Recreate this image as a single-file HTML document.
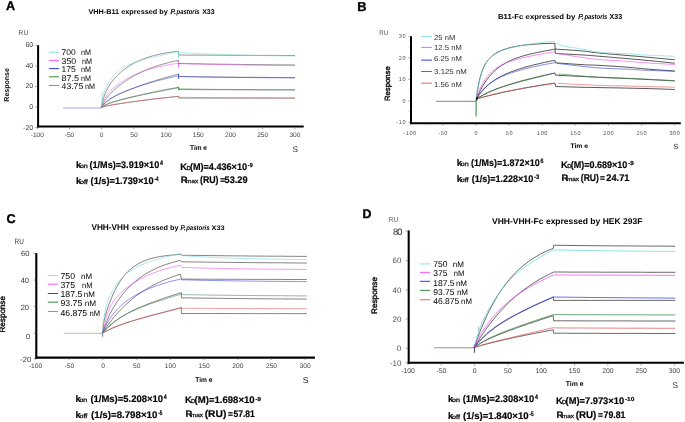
<!DOCTYPE html>
<html><head><meta charset="utf-8"><style>
html,body{margin:0;padding:0;background:#fff;}
svg{display:block;font-family:"Liberation Sans", sans-serif;will-change:transform;text-rendering:geometricPrecision;}
</style></head><body>
<svg width="685" height="422" viewBox="0 0 685 422">
<rect width="685" height="422" fill="#fff"/>
<text x="5.90" y="9.80" font-size="12.6" font-weight="bold" fill="#000" stroke="#000" stroke-width="0.35">A</text>
<text x="88.40" y="13.60" font-size="7" font-weight="bold" textLength="79.40" lengthAdjust="spacingAndGlyphs" >VHH-B11 expressed by</text>
<text x="170.60" y="13.60" font-size="7" font-style="italic" textLength="5.50" lengthAdjust="spacingAndGlyphs" stroke="#111" stroke-width="0.3">P.</text>
<text x="176.50" y="13.60" font-size="7" font-weight="bold" font-style="italic" textLength="23.10" lengthAdjust="spacingAndGlyphs" >pastoris</text>
<text x="202.20" y="13.60" font-size="7" font-weight="bold" textLength="12.40" lengthAdjust="spacingAndGlyphs" >X33</text>
<text x="18.60" y="34.60" font-size="6.9" fill="#444" textLength="9.60" lengthAdjust="spacingAndGlyphs" >RU</text>
<line x1="38.10" y1="45.20" x2="38.10" y2="127.50" stroke="#000" stroke-width="2"/>
<line x1="37.10" y1="126.50" x2="303.70" y2="126.50" stroke="#000" stroke-width="2"/>
<line x1="35.20" y1="45.30" x2="37.10" y2="45.30" stroke="#666" stroke-width="0.6"/>
<text x="33.20" y="47.10" font-size="7" text-anchor="end" fill="#444" >60</text>
<line x1="35.20" y1="65.90" x2="37.10" y2="65.90" stroke="#666" stroke-width="0.6"/>
<text x="33.20" y="67.70" font-size="7" text-anchor="end" fill="#444" >40</text>
<line x1="35.20" y1="86.50" x2="37.10" y2="86.50" stroke="#666" stroke-width="0.6"/>
<text x="33.20" y="88.30" font-size="7" text-anchor="end" fill="#444" >20</text>
<line x1="35.20" y1="107.10" x2="37.10" y2="107.10" stroke="#666" stroke-width="0.6"/>
<text x="33.20" y="108.90" font-size="7" text-anchor="end" fill="#444" >0</text>
<line x1="35.20" y1="127.70" x2="37.10" y2="127.70" stroke="#666" stroke-width="0.6"/>
<text x="33.20" y="129.50" font-size="7" text-anchor="end" fill="#444" >-20</text>
<line x1="37.30" y1="127.50" x2="37.30" y2="129.30" stroke="#666" stroke-width="0.6"/>
<text x="37.30" y="137.00" font-size="6.6" text-anchor="middle" fill="#444" >-100</text>
<line x1="69.50" y1="127.50" x2="69.50" y2="129.30" stroke="#666" stroke-width="0.6"/>
<text x="69.50" y="137.00" font-size="6.6" text-anchor="middle" fill="#444" >-50</text>
<line x1="101.70" y1="127.50" x2="101.70" y2="129.30" stroke="#666" stroke-width="0.6"/>
<text x="101.70" y="137.00" font-size="6.6" text-anchor="middle" fill="#444" >0</text>
<line x1="133.90" y1="127.50" x2="133.90" y2="129.30" stroke="#666" stroke-width="0.6"/>
<text x="133.90" y="137.00" font-size="6.6" text-anchor="middle" fill="#444" >50</text>
<line x1="166.10" y1="127.50" x2="166.10" y2="129.30" stroke="#666" stroke-width="0.6"/>
<text x="166.10" y="137.00" font-size="6.6" text-anchor="middle" fill="#444" >100</text>
<line x1="198.30" y1="127.50" x2="198.30" y2="129.30" stroke="#666" stroke-width="0.6"/>
<text x="198.30" y="137.00" font-size="6.6" text-anchor="middle" fill="#444" >150</text>
<line x1="230.50" y1="127.50" x2="230.50" y2="129.30" stroke="#666" stroke-width="0.6"/>
<text x="230.50" y="137.00" font-size="6.6" text-anchor="middle" fill="#444" >200</text>
<line x1="262.70" y1="127.50" x2="262.70" y2="129.30" stroke="#666" stroke-width="0.6"/>
<text x="262.70" y="137.00" font-size="6.6" text-anchor="middle" fill="#444" >250</text>
<line x1="294.90" y1="127.50" x2="294.90" y2="129.30" stroke="#666" stroke-width="0.6"/>
<text x="294.90" y="137.00" font-size="6.6" text-anchor="middle" fill="#444" >300</text>
<text x="9.10" y="84.90" font-size="7" font-weight="bold" text-anchor="middle" textLength="33.60" lengthAdjust="spacingAndGlyphs" transform="rotate(-90 9.10 84.90)" >Response</text>
<text x="190.00" y="149.60" font-size="6.8" font-weight="bold" textLength="17.00" lengthAdjust="spacingAndGlyphs" >Tim e</text>
<text x="292.40" y="151.60" font-size="8.2" fill="#222" >S</text>
<line x1="48.90" y1="52.20" x2="59.00" y2="52.20" stroke="#86e6e6" stroke-width="1.05"/>
<text x="61.60" y="54.60" font-size="8.3" textLength="14.20" lengthAdjust="spacingAndGlyphs" >700</text>
<text x="81.00" y="54.60" font-size="8.0" textLength="10.00" lengthAdjust="spacingAndGlyphs" >nM</text>
<line x1="48.90" y1="60.40" x2="59.00" y2="60.40" stroke="#ff5cff" stroke-width="1.05"/>
<text x="61.60" y="63.50" font-size="8.3" textLength="14.60" lengthAdjust="spacingAndGlyphs" >350</text>
<text x="82.00" y="63.50" font-size="8.0" textLength="10.00" lengthAdjust="spacingAndGlyphs" >nM</text>
<line x1="48.90" y1="68.60" x2="59.00" y2="68.60" stroke="#3840e4" stroke-width="1.05"/>
<text x="61.60" y="72.20" font-size="8.3" textLength="14.20" lengthAdjust="spacingAndGlyphs" >175</text>
<text x="81.00" y="72.20" font-size="8.0" textLength="10.00" lengthAdjust="spacingAndGlyphs" >nM</text>
<line x1="48.90" y1="76.80" x2="59.00" y2="76.80" stroke="#3c8c44" stroke-width="1.05"/>
<text x="61.60" y="80.50" font-size="8.3" textLength="17.40" lengthAdjust="spacingAndGlyphs" >87.5</text>
<text x="81.00" y="80.50" font-size="8.0" textLength="10.00" lengthAdjust="spacingAndGlyphs" >nM</text>
<line x1="48.90" y1="85.50" x2="59.00" y2="85.50" stroke="#f06868" stroke-width="1.05"/>
<text x="61.60" y="88.90" font-size="8.3" textLength="21.60" lengthAdjust="spacingAndGlyphs" >43.75</text>
<text x="84.90" y="88.90" font-size="8.0" textLength="10.00" lengthAdjust="spacingAndGlyphs" >nM</text>
<path d="M63.1 108.0 101.7 108.0" fill="none" stroke="#9a88d8" stroke-width="0.8" stroke-opacity="1"/>
<path d="M101.3 107.4 101.5 106.6 101.8 105.1 102.2 103.2 102.7 101.1 103.4 98.9 104.1 96.6 104.8 94.4 105.7 92.3 106.6 90.3 107.6 88.3 108.6 86.5 109.7 84.7 110.8 83.0 112.1 81.4 113.3 79.8 114.6 78.3 116.0 76.8 117.4 75.4 118.8 74.0 120.3 72.6 121.9 71.3 123.5 70.0 125.1 68.8 126.8 67.6 128.5 66.4 130.2 65.3 132.0 64.3 133.9 63.2 135.8 62.3 137.7 61.3 139.7 60.4 141.7 59.6 143.7 58.8 145.8 58.0 147.9 57.3 150.0 56.6 152.2 56.0 154.4 55.4 156.7 54.9 159.0 54.3 161.3 53.8 163.6 53.4 166.0 52.9 168.5 52.5 170.9 52.2 173.4 51.8 175.9 51.5 178.5 51.2 178.7 55.0 178.7 55.0 182.6 55.0 186.5 55.1 190.3 55.1 194.2 55.1 198.1 55.1 202.0 55.1 205.8 55.2 209.7 55.2 213.6 55.2 217.5 55.2 221.3 55.2 225.2 55.3 229.1 55.3 233.0 55.3 236.8 55.3 240.7 55.3 244.6 55.3 248.5 55.4 252.4 55.4 256.2 55.4 260.1 55.4 264.0 55.4 267.9 55.4 271.7 55.4 275.6 55.4 279.5 55.5 283.4 55.5 287.2 55.5 291.1 55.5 295.0 55.5" fill="none" stroke="#404040" stroke-width="0.55" stroke-opacity="1.0"/>
<path d="M101.3 107.4 101.5 107.0 101.8 106.3 102.2 105.3 102.7 104.2 103.4 103.1 104.1 101.8 104.8 100.6 105.7 99.4 106.6 98.1 107.6 96.9 108.6 95.7 109.7 94.4 110.8 93.2 112.1 92.0 113.3 90.8 114.6 89.6 116.0 88.4 117.4 87.2 118.8 86.0 120.3 84.9 121.9 83.7 123.5 82.5 125.1 81.4 126.8 80.3 128.5 79.1 130.2 78.0 132.0 77.0 133.9 75.9 135.8 74.9 137.7 73.9 139.7 72.9 141.7 71.9 143.7 71.0 145.8 70.1 147.9 69.2 150.0 68.4 152.2 67.6 154.4 66.8 156.7 66.0 159.0 65.3 161.3 64.6 163.6 63.9 166.0 63.3 168.5 62.6 170.9 62.0 173.4 61.5 175.9 60.9 178.5 60.4 178.7 63.5 178.7 63.5 182.6 63.6 186.5 63.6 190.3 63.7 194.2 63.8 198.1 63.8 202.0 63.9 205.8 64.0 209.7 64.0 213.6 64.1 217.5 64.1 221.3 64.2 225.2 64.2 229.1 64.3 233.0 64.3 236.8 64.4 240.7 64.4 244.6 64.5 248.5 64.5 252.4 64.5 256.2 64.6 260.1 64.6 264.0 64.7 267.9 64.7 271.7 64.7 275.6 64.8 279.5 64.8 283.4 64.8 287.2 64.8 291.1 64.9 295.0 64.9" fill="none" stroke="#404040" stroke-width="0.55" stroke-opacity="1.0"/>
<path d="M101.3 107.4 101.5 107.2 101.8 106.8 102.2 106.2 102.7 105.6 103.4 104.9 104.1 104.2 104.8 103.4 105.7 102.6 106.6 101.8 107.6 101.0 108.6 100.3 109.7 99.5 110.8 98.7 112.1 98.0 113.3 97.2 114.6 96.5 116.0 95.7 117.4 95.0 118.8 94.3 120.3 93.6 121.9 92.9 123.5 92.2 125.1 91.5 126.8 90.8 128.5 90.1 130.2 89.4 132.0 88.7 133.9 88.0 135.8 87.2 137.7 86.5 139.7 85.8 141.7 85.1 143.7 84.4 145.8 83.7 147.9 83.0 150.0 82.3 152.2 81.6 154.4 80.9 156.7 80.2 159.0 79.5 161.3 78.9 163.6 78.2 166.0 77.5 168.5 76.8 170.9 76.2 173.4 75.5 175.9 74.8 178.5 74.2 178.7 76.5 178.7 76.5 182.6 76.6 186.5 76.6 190.3 76.7 194.2 76.7 198.1 76.8 202.0 76.8 205.8 76.9 209.7 76.9 213.6 77.0 217.5 77.0 221.3 77.0 225.2 77.1 229.1 77.1 233.0 77.1 236.8 77.2 240.7 77.2 244.6 77.3 248.5 77.3 252.4 77.3 256.2 77.3 260.1 77.4 264.0 77.4 267.9 77.4 271.7 77.5 275.6 77.5 279.5 77.5 283.4 77.5 287.2 77.6 291.1 77.6 295.0 77.6" fill="none" stroke="#404040" stroke-width="0.55" stroke-opacity="1.0"/>
<path d="M101.3 107.4 101.5 107.3 101.8 107.1 102.2 106.8 102.7 106.4 103.4 106.0 104.1 105.7 104.8 105.3 105.7 104.9 106.6 104.5 107.6 104.1 108.6 103.7 109.7 103.3 110.8 102.9 112.1 102.5 113.3 102.1 114.6 101.7 116.0 101.3 117.4 100.9 118.8 100.5 120.3 100.0 121.9 99.6 123.5 99.2 125.1 98.8 126.8 98.3 128.5 97.9 130.2 97.4 132.0 97.0 133.9 96.5 135.8 96.1 137.7 95.6 139.7 95.2 141.7 94.7 143.7 94.2 145.8 93.8 147.9 93.3 150.0 92.8 152.2 92.4 154.4 91.9 156.7 91.4 159.0 91.0 161.3 90.5 163.6 90.0 166.0 89.6 168.5 89.1 170.9 88.7 173.4 88.2 175.9 87.8 178.5 87.3 178.7 89.6 178.7 89.6 182.6 89.6 186.5 89.6 190.3 89.6 194.2 89.6 198.1 89.6 202.0 89.7 205.8 89.7 209.7 89.7 213.6 89.7 217.5 89.7 221.3 89.7 225.2 89.7 229.1 89.7 233.0 89.7 236.8 89.7 240.7 89.7 244.6 89.7 248.5 89.7 252.4 89.7 256.2 89.8 260.1 89.8 264.0 89.8 267.9 89.8 271.7 89.8 275.6 89.8 279.5 89.8 283.4 89.8 287.2 89.8 291.1 89.8 295.0 89.8" fill="none" stroke="#404040" stroke-width="0.55" stroke-opacity="1.0"/>
<path d="M101.3 107.4 101.5 107.3 101.8 107.2 102.2 107.1 102.7 106.9 103.4 106.7 104.1 106.6 104.8 106.4 105.7 106.2 106.6 106.0 107.6 105.8 108.6 105.6 109.7 105.4 110.8 105.2 112.1 105.0 113.3 104.8 114.6 104.5 116.0 104.3 117.4 104.1 118.8 103.9 120.3 103.6 121.9 103.4 123.5 103.1 125.1 102.9 126.8 102.6 128.5 102.4 130.2 102.1 132.0 101.9 133.9 101.6 135.8 101.3 137.7 101.1 139.7 100.8 141.7 100.5 143.7 100.3 145.8 100.0 147.9 99.7 150.0 99.5 152.2 99.2 154.4 98.9 156.7 98.7 159.0 98.4 161.3 98.1 163.6 97.9 166.0 97.6 168.5 97.3 170.9 97.1 173.4 96.8 175.9 96.6 178.5 96.3 178.7 98.1 178.7 98.1 182.6 98.1 186.5 98.1 190.3 98.1 194.2 98.1 198.1 98.1 202.0 98.1 205.8 98.1 209.7 98.1 213.6 98.1 217.5 98.1 221.3 98.1 225.2 98.1 229.1 98.1 233.0 98.1 236.8 98.1 240.7 98.1 244.6 98.1 248.5 98.1 252.4 98.1 256.2 98.1 260.1 98.1 264.0 98.1 267.9 98.1 271.7 98.1 275.6 98.1 279.5 98.1 283.4 98.1 287.2 98.1 291.1 98.1 295.0 98.1" fill="none" stroke="#404040" stroke-width="0.55" stroke-opacity="1.0"/>
<path d="M101.3 107.4 101.5 106.1 101.8 103.7 102.2 100.9 102.7 98.0 103.4 95.2 104.1 92.6 104.8 90.2 105.7 88.0 106.6 86.0 107.6 84.1 108.6 82.3 109.7 80.6 110.8 79.0 112.1 77.5 113.3 76.0 114.6 74.6 116.0 73.3 117.4 72.0 118.8 70.8 120.3 69.7 121.9 68.7 123.5 67.7 125.1 66.7 126.8 65.9 128.5 65.0 130.2 64.2 132.0 63.5 133.9 62.8 135.8 62.1 137.7 61.4 139.7 60.8 141.7 60.2 143.7 59.6 145.8 59.1 147.9 58.5 150.0 57.9 152.2 57.4 154.4 56.9 156.7 56.3 159.0 55.8 161.3 55.3 163.6 54.7 166.0 54.2 168.5 53.7 170.9 53.1 173.4 52.6 175.9 52.0 178.5 51.5 179.0 52.4 179.7 52.4 183.5 52.6 187.4 52.9 191.2 53.1 195.1 53.3 198.9 53.5 202.8 53.6 206.6 53.8 210.4 54.0 214.3 54.1 218.1 54.3 222.0 54.4 225.8 54.5 229.7 54.7 233.5 54.8 237.3 54.9 241.2 55.0 245.0 55.1 248.9 55.2 252.7 55.3 256.6 55.4 260.4 55.5 264.3 55.6 268.1 55.7 271.9 55.7 275.8 55.8 279.6 55.9 283.5 55.9 287.3 56.0 291.2 56.0 295.0 56.1" fill="none" stroke="#6cdada" stroke-width="0.55" stroke-opacity="0.95"/>
<path d="M101.3 107.4 101.5 106.9 101.8 105.8 102.2 104.5 102.7 103.1 103.4 101.5 104.1 100.0 104.8 98.5 105.7 97.0 106.6 95.6 107.6 94.2 108.6 92.9 109.7 91.7 110.8 90.5 112.1 89.3 113.3 88.1 114.6 87.0 116.0 85.9 117.4 84.8 118.8 83.8 120.3 82.7 121.9 81.7 123.5 80.7 125.1 79.7 126.8 78.7 128.5 77.8 130.2 76.9 132.0 76.0 133.9 75.1 135.8 74.2 137.7 73.4 139.7 72.6 141.7 71.9 143.7 71.1 145.8 70.4 147.9 69.7 150.0 69.1 152.2 68.5 154.4 67.9 156.7 67.3 159.0 66.7 161.3 66.2 163.6 65.7 166.0 65.2 168.5 64.8 170.9 64.4 173.4 64.0 175.9 63.6 178.5 63.2 179.0 63.5 179.7 63.5 183.5 63.6 187.4 63.8 191.2 63.9 195.1 64.0 198.9 64.1 202.8 64.2 206.6 64.3 210.4 64.4 214.3 64.5 218.1 64.6 222.0 64.6 225.8 64.7 229.7 64.8 233.5 64.9 237.3 64.9 241.2 65.0 245.0 65.0 248.9 65.1 252.7 65.2 256.6 65.2 260.4 65.3 264.3 65.3 268.1 65.3 271.9 65.4 275.8 65.4 279.6 65.5 283.5 65.5 287.3 65.5 291.2 65.6 295.0 65.6" fill="none" stroke="#ee48ee" stroke-width="0.55" stroke-opacity="0.95"/>
<path d="M101.3 107.4 101.5 107.2 101.8 106.7 102.2 106.1 102.7 105.4 103.4 104.6 104.1 103.8 104.8 103.0 105.7 102.2 106.6 101.4 107.6 100.6 108.6 99.8 109.7 99.0 110.8 98.3 112.1 97.6 113.3 96.9 114.6 96.2 116.0 95.5 117.4 94.8 118.8 94.1 120.3 93.4 121.9 92.8 123.5 92.1 125.1 91.4 126.8 90.8 128.5 90.1 130.2 89.4 132.0 88.8 133.9 88.1 135.8 87.4 137.7 86.8 139.7 86.1 141.7 85.5 143.7 84.8 145.8 84.2 147.9 83.5 150.0 82.9 152.2 82.3 154.4 81.6 156.7 81.0 159.0 80.4 161.3 79.8 163.6 79.2 166.0 78.6 168.5 78.0 170.9 77.5 173.4 76.9 175.9 76.3 178.5 75.8 179.0 76.5 179.7 76.5 183.5 76.6 187.4 76.7 191.2 76.8 195.1 76.8 198.9 76.9 202.8 77.0 206.6 77.0 210.4 77.1 214.3 77.2 218.1 77.2 222.0 77.3 225.8 77.3 229.7 77.4 233.5 77.4 237.3 77.5 241.2 77.5 245.0 77.5 248.9 77.6 252.7 77.6 256.6 77.6 260.4 77.7 264.3 77.7 268.1 77.7 271.9 77.8 275.8 77.8 279.6 77.8 283.5 77.8 287.3 77.9 291.2 77.9 295.0 77.9" fill="none" stroke="#3440d8" stroke-width="0.55" stroke-opacity="0.95"/>
<path d="M101.3 107.4 101.5 107.3 101.8 107.1 102.2 106.8 102.7 106.4 103.4 106.0 104.1 105.6 104.8 105.2 105.7 104.8 106.6 104.3 107.6 103.9 108.6 103.5 109.7 103.0 110.8 102.6 112.1 102.2 113.3 101.8 114.6 101.4 116.0 101.0 117.4 100.6 118.8 100.3 120.3 99.9 121.9 99.5 123.5 99.1 125.1 98.7 126.8 98.3 128.5 97.9 130.2 97.5 132.0 97.1 133.9 96.7 135.8 96.3 137.7 95.9 139.7 95.5 141.7 95.0 143.7 94.6 145.8 94.2 147.9 93.7 150.0 93.3 152.2 92.9 154.4 92.4 156.7 92.0 159.0 91.5 161.3 91.1 163.6 90.6 166.0 90.1 168.5 89.7 170.9 89.2 173.4 88.7 175.9 88.3 178.5 87.8 179.0 88.8 179.7 88.8 183.5 88.9 187.4 88.9 191.2 89.0 195.1 89.1 198.9 89.1 202.8 89.2 206.6 89.3 210.4 89.3 214.3 89.4 218.1 89.4 222.0 89.5 225.8 89.5 229.7 89.5 233.5 89.6 237.3 89.6 241.2 89.7 245.0 89.7 248.9 89.7 252.7 89.7 256.6 89.8 260.4 89.8 264.3 89.8 268.1 89.9 271.9 89.9 275.8 89.9 279.6 89.9 283.5 89.9 287.3 90.0 291.2 90.0 295.0 90.0" fill="none" stroke="#3c8a46" stroke-width="0.55" stroke-opacity="0.95"/>
<path d="M101.3 107.4 101.5 107.3 101.8 107.2 102.2 107.1 102.7 106.9 103.4 106.7 104.1 106.5 104.8 106.3 105.7 106.1 106.6 105.9 107.6 105.7 108.6 105.5 109.7 105.3 110.8 105.1 112.1 104.8 113.3 104.6 114.6 104.4 116.0 104.2 117.4 104.0 118.8 103.7 120.3 103.5 121.9 103.3 123.5 103.0 125.1 102.8 126.8 102.6 128.5 102.3 130.2 102.1 132.0 101.8 133.9 101.6 135.8 101.3 137.7 101.1 139.7 100.8 141.7 100.6 143.7 100.3 145.8 100.1 147.9 99.8 150.0 99.6 152.2 99.3 154.4 99.0 156.7 98.8 159.0 98.5 161.3 98.3 163.6 98.0 166.0 97.8 168.5 97.5 170.9 97.3 173.4 97.0 175.9 96.7 178.5 96.5 179.0 97.3 179.7 97.3 183.5 97.3 187.4 97.4 191.2 97.4 195.1 97.5 198.9 97.5 202.8 97.5 206.6 97.6 210.4 97.6 214.3 97.6 218.1 97.7 222.0 97.7 225.8 97.7 229.7 97.7 233.5 97.8 237.3 97.8 241.2 97.8 245.0 97.8 248.9 97.8 252.7 97.9 256.6 97.9 260.4 97.9 264.3 97.9 268.1 97.9 271.9 97.9 275.8 97.9 279.6 98.0 283.5 98.0 287.3 98.0 291.2 98.0 295.0 98.0" fill="none" stroke="#e45a5a" stroke-width="0.55" stroke-opacity="0.95"/>
<line x1="102.00" y1="91.50" x2="102.00" y2="107.00" stroke="#6cdada" stroke-width="0.6"/>
<line x1="178.60" y1="51.20" x2="178.60" y2="58.00" stroke="#6cdada" stroke-width="0.7"/>
<line x1="178.60" y1="61.00" x2="178.60" y2="67.80" stroke="#ee48ee" stroke-width="0.8"/>
<line x1="178.60" y1="73.80" x2="178.60" y2="79.00" stroke="#3440d8" stroke-width="0.8"/>
<line x1="178.60" y1="86.50" x2="178.60" y2="90.00" stroke="#3c8a46" stroke-width="0.7"/>
<text x="76.00" y="168.40" font-size="9.4" font-weight="bold" stroke="#111" stroke-width="0.2">k</text>
<text x="79.90" y="168.40" font-size="6.2" textLength="7.90" lengthAdjust="spacingAndGlyphs" stroke="#222" stroke-width="0.3">on</text>
<text x="89.50" y="168.40" font-size="9.6" font-weight="bold" textLength="69.70" lengthAdjust="spacingAndGlyphs" stroke="#111" stroke-width="0.2">(1/Ms)=3.919×10</text>
<text x="160.00" y="165.40" font-size="6.4" font-weight="bold" textLength="3.00" lengthAdjust="spacingAndGlyphs" stroke="#111" stroke-width="0.2">4</text>
<text x="76.00" y="183.90" font-size="9.4" font-weight="bold" stroke="#111" stroke-width="0.2">k</text>
<text x="79.90" y="183.90" font-size="6.2" textLength="7.90" lengthAdjust="spacingAndGlyphs" stroke="#222" stroke-width="0.3">off</text>
<text x="90.60" y="183.90" font-size="9.6" font-weight="bold" textLength="63.00" lengthAdjust="spacingAndGlyphs" stroke="#111" stroke-width="0.2">(1/s)=1.739×10</text>
<text x="154.40" y="180.90" font-size="6.4" font-weight="bold" textLength="4.00" lengthAdjust="spacingAndGlyphs" stroke="#111" stroke-width="0.2">-4</text>
<text x="180.20" y="169.70" font-size="9.4" font-weight="bold" stroke="#111" stroke-width="0.2">K</text>
<text x="186.40" y="169.70" font-size="5.8" stroke="#222" stroke-width="0.3">D</text>
<text x="189.90" y="169.70" font-size="9.6" font-weight="bold" textLength="57.10" lengthAdjust="spacingAndGlyphs" stroke="#111" stroke-width="0.2">(M)=4.436×10</text>
<text x="247.80" y="166.90" font-size="5.8" font-weight="bold" textLength="4.90" lengthAdjust="spacingAndGlyphs" stroke="#111" stroke-width="0.2">-9</text>
<text x="180.80" y="183.20" font-size="9.4" font-weight="bold" stroke="#111" stroke-width="0.2">R</text>
<text x="186.10" y="183.20" font-size="5.8" textLength="12.20" lengthAdjust="spacingAndGlyphs" stroke="#222" stroke-width="0.3">max</text>
<text x="200.00" y="183.20" font-size="9.8" font-weight="bold" textLength="18.50" lengthAdjust="spacingAndGlyphs" stroke="#111" stroke-width="0.2">(RU)</text>
<text x="220.30" y="183.20" font-size="9.4" font-weight="bold" textLength="4.90" lengthAdjust="spacingAndGlyphs" stroke="#111" stroke-width="0.2">=</text>
<text x="224.60" y="183.20" font-size="9.6" font-weight="bold" textLength="23.00" lengthAdjust="spacingAndGlyphs" stroke="#111" stroke-width="0.2">53.29</text>
<text x="357.30" y="10.60" font-size="12.8" font-weight="bold" fill="#000" stroke="#000" stroke-width="0.35">B</text>
<text x="497.90" y="19.00" font-size="7.2" font-weight="bold" textLength="77.40" lengthAdjust="spacingAndGlyphs" >B11-Fc expressed by</text>
<text x="578.30" y="19.00" font-size="7.2" font-style="italic" textLength="5.70" lengthAdjust="spacingAndGlyphs" stroke="#111" stroke-width="0.3">P.</text>
<text x="584.40" y="19.00" font-size="7.2" font-weight="bold" font-style="italic" textLength="23.00" lengthAdjust="spacingAndGlyphs" >pastoris</text>
<text x="609.50" y="19.00" font-size="7.2" font-weight="bold" textLength="12.60" lengthAdjust="spacingAndGlyphs" >X33</text>
<text x="379.30" y="35.10" font-size="6.6" fill="#444" textLength="8.80" lengthAdjust="spacingAndGlyphs" >RU</text>
<line x1="411.00" y1="36.20" x2="411.00" y2="124.00" stroke="#000" stroke-width="2"/>
<line x1="410.00" y1="123.20" x2="680.80" y2="123.20" stroke="#000" stroke-width="2"/>
<line x1="408.20" y1="36.25" x2="410.00" y2="36.25" stroke="#777" stroke-width="0.6"/>
<text x="406.20" y="38.05" font-size="5.6" text-anchor="end" fill="#555" letter-spacing="0.6">30</text>
<line x1="408.20" y1="57.80" x2="410.00" y2="57.80" stroke="#777" stroke-width="0.6"/>
<text x="406.20" y="59.60" font-size="5.6" text-anchor="end" fill="#555" letter-spacing="0.6">20</text>
<line x1="408.20" y1="79.35" x2="410.00" y2="79.35" stroke="#777" stroke-width="0.6"/>
<text x="406.20" y="81.15" font-size="5.6" text-anchor="end" fill="#555" letter-spacing="0.6">10</text>
<line x1="408.20" y1="100.90" x2="410.00" y2="100.90" stroke="#777" stroke-width="0.6"/>
<text x="406.20" y="102.70" font-size="5.6" text-anchor="end" fill="#555" letter-spacing="0.6">0</text>
<line x1="408.20" y1="122.45" x2="410.00" y2="122.45" stroke="#777" stroke-width="0.6"/>
<text x="406.20" y="124.25" font-size="5.6" text-anchor="end" fill="#555" letter-spacing="0.6">-10</text>
<line x1="408.80" y1="47.03" x2="410.00" y2="47.03" stroke="#999" stroke-width="0.5"/>
<line x1="408.80" y1="68.58" x2="410.00" y2="68.58" stroke="#999" stroke-width="0.5"/>
<line x1="408.80" y1="90.12" x2="410.00" y2="90.12" stroke="#999" stroke-width="0.5"/>
<line x1="408.80" y1="111.68" x2="410.00" y2="111.68" stroke="#999" stroke-width="0.5"/>
<line x1="409.80" y1="124.20" x2="409.80" y2="125.80" stroke="#777" stroke-width="0.6"/>
<text x="410.10" y="134.70" font-size="5.6" text-anchor="middle" fill="#555" letter-spacing="0.5">-100</text>
<line x1="442.90" y1="124.20" x2="442.90" y2="125.80" stroke="#777" stroke-width="0.6"/>
<text x="443.20" y="134.70" font-size="5.6" text-anchor="middle" fill="#555" letter-spacing="0.5">-50</text>
<line x1="476.00" y1="124.20" x2="476.00" y2="125.80" stroke="#777" stroke-width="0.6"/>
<text x="476.30" y="134.70" font-size="5.6" text-anchor="middle" fill="#555" letter-spacing="0.5">0</text>
<line x1="509.10" y1="124.20" x2="509.10" y2="125.80" stroke="#777" stroke-width="0.6"/>
<text x="509.40" y="134.70" font-size="5.6" text-anchor="middle" fill="#555" letter-spacing="0.5">50</text>
<line x1="542.20" y1="124.20" x2="542.20" y2="125.80" stroke="#777" stroke-width="0.6"/>
<text x="542.50" y="134.70" font-size="5.6" text-anchor="middle" fill="#555" letter-spacing="0.5">100</text>
<line x1="575.30" y1="124.20" x2="575.30" y2="125.80" stroke="#777" stroke-width="0.6"/>
<text x="575.60" y="134.70" font-size="5.6" text-anchor="middle" fill="#555" letter-spacing="0.5">150</text>
<line x1="608.40" y1="124.20" x2="608.40" y2="125.80" stroke="#777" stroke-width="0.6"/>
<text x="608.70" y="134.70" font-size="5.6" text-anchor="middle" fill="#555" letter-spacing="0.5">200</text>
<line x1="641.50" y1="124.20" x2="641.50" y2="125.80" stroke="#777" stroke-width="0.6"/>
<text x="641.80" y="134.70" font-size="5.6" text-anchor="middle" fill="#555" letter-spacing="0.5">250</text>
<line x1="674.60" y1="124.20" x2="674.60" y2="125.80" stroke="#777" stroke-width="0.6"/>
<text x="674.90" y="134.70" font-size="5.6" text-anchor="middle" fill="#555" letter-spacing="0.5">300</text>
<line x1="426.35" y1="124.20" x2="426.35" y2="125.30" stroke="#999" stroke-width="0.5"/>
<line x1="459.45" y1="124.20" x2="459.45" y2="125.30" stroke="#999" stroke-width="0.5"/>
<line x1="492.55" y1="124.20" x2="492.55" y2="125.30" stroke="#999" stroke-width="0.5"/>
<line x1="525.65" y1="124.20" x2="525.65" y2="125.30" stroke="#999" stroke-width="0.5"/>
<line x1="558.75" y1="124.20" x2="558.75" y2="125.30" stroke="#999" stroke-width="0.5"/>
<line x1="591.85" y1="124.20" x2="591.85" y2="125.30" stroke="#999" stroke-width="0.5"/>
<line x1="624.95" y1="124.20" x2="624.95" y2="125.30" stroke="#999" stroke-width="0.5"/>
<line x1="658.05" y1="124.20" x2="658.05" y2="125.30" stroke="#999" stroke-width="0.5"/>
<text x="390.30" y="83.60" font-size="7.6" text-anchor="middle" textLength="34.80" lengthAdjust="spacingAndGlyphs" transform="rotate(-90 390.30 83.60)" stroke="#111" stroke-width="0.4">Response</text>
<text x="570.40" y="147.60" font-size="6.6" font-weight="bold" textLength="17.60" lengthAdjust="spacingAndGlyphs" >Tim e</text>
<text x="673.30" y="149.30" font-size="7.4" fill="#222" >S</text>
<line x1="421.20" y1="36.60" x2="431.90" y2="36.60" stroke="#86e6e6" stroke-width="1.05"/>
<text x="434.10" y="39.70" font-size="7.2" fill="#333" textLength="21.30" lengthAdjust="spacingAndGlyphs" >25 nM</text>
<line x1="421.20" y1="47.40" x2="431.90" y2="47.40" stroke="#ff5cff" stroke-width="1.05"/>
<text x="434.10" y="49.60" font-size="7.2" fill="#333" textLength="27.70" lengthAdjust="spacingAndGlyphs" >12.5 nM</text>
<line x1="421.20" y1="60.10" x2="431.90" y2="60.10" stroke="#3840e4" stroke-width="1.05"/>
<text x="434.10" y="61.30" font-size="7.2" fill="#333" textLength="27.90" lengthAdjust="spacingAndGlyphs" >6.25 nM</text>
<line x1="421.20" y1="71.50" x2="431.90" y2="71.50" stroke="#3c8c44" stroke-width="1.05"/>
<text x="434.10" y="73.50" font-size="7.2" fill="#333" textLength="32.70" lengthAdjust="spacingAndGlyphs" >3.125 nM</text>
<line x1="421.20" y1="83.20" x2="431.90" y2="83.20" stroke="#f06868" stroke-width="1.05"/>
<text x="434.10" y="87.30" font-size="7.2" fill="#333" textLength="27.70" lengthAdjust="spacingAndGlyphs" >1.56 nM</text>
<path d="M436.1 101.3 476.0 101.3" fill="none" stroke="#8a8080" stroke-width="1.0" stroke-opacity="1"/>
<path d="M476.3 99.0 476.5 97.7 476.8 95.3 477.2 92.2 477.8 88.8 478.4 85.3 479.1 81.7 479.9 78.3 480.8 75.2 481.7 72.2 482.7 69.5 483.7 67.0 484.9 64.8 486.0 62.9 487.2 61.1 488.5 59.5 489.9 58.0 491.2 56.7 492.7 55.5 494.1 54.4 495.7 53.4 497.2 52.5 498.9 51.7 500.5 50.9 502.2 50.2 504.0 49.5 505.8 48.9 507.6 48.3 509.5 47.8 511.4 47.3 513.4 46.9 515.3 46.5 517.4 46.1 519.5 45.7 521.6 45.4 523.7 45.2 525.9 44.9 528.1 44.7 530.4 44.5 532.7 44.3 535.0 44.1 537.4 44.0 539.8 43.8 542.2 43.7 544.7 43.6 547.2 43.5 549.7 43.4 552.3 43.4 554.9 43.3" fill="none" stroke="#1e1e1e" stroke-width="0.75" stroke-opacity="1.0"/>
<path d="M554.9 43.3 555.2 49.1" fill="none" stroke="#1e1e1e" stroke-width="0.75" stroke-opacity="1.0"/>
<path d="M555.20 49.10 C559.83 49.42 575.53 50.33 583.00 51.00 C590.47 51.67 589.67 52.10 600.00 53.10 C610.33 54.10 632.53 55.88 645.00 57.00 C657.47 58.12 669.83 59.33 674.80 59.80" fill="none" stroke="#1e1e1e" stroke-width="0.75" stroke-opacity="1.0" stroke-linejoin="round"/>
<path d="M476.3 99.0 476.5 98.6 476.8 97.8 477.2 96.8 477.8 95.6 478.4 94.2 479.1 92.7 479.9 91.1 480.8 89.5 481.7 87.7 482.7 86.0 483.7 84.3 484.9 82.5 486.0 80.8 487.2 79.1 488.5 77.5 489.9 75.9 491.2 74.3 492.7 72.8 494.1 71.4 495.7 70.0 497.2 68.6 498.9 67.4 500.5 66.2 502.2 65.0 504.0 64.0 505.8 62.9 507.6 62.0 509.5 61.0 511.4 60.2 513.4 59.3 515.3 58.5 517.4 57.8 519.5 57.1 521.6 56.4 523.7 55.8 525.9 55.2 528.1 54.6 530.4 54.0 532.7 53.5 535.0 53.0 537.4 52.5 539.8 52.0 542.2 51.5 544.7 51.0 547.2 50.5 549.7 50.1 552.3 49.6 554.9 49.2" fill="none" stroke="#1e1e1e" stroke-width="0.75" stroke-opacity="1.0"/>
<path d="M554.9 49.2 555.4 52.8" fill="none" stroke="#1e1e1e" stroke-width="0.75" stroke-opacity="1.0"/>
<path d="M555.40 52.80 C555.87 52.93 553.60 53.23 558.20 53.60 C562.80 53.97 576.03 54.55 583.00 55.00 C589.97 55.45 589.67 55.43 600.00 56.30 C610.33 57.17 632.53 59.05 645.00 60.20 C657.47 61.35 669.83 62.70 674.80 63.20" fill="none" stroke="#1e1e1e" stroke-width="0.75" stroke-opacity="1.0" stroke-linejoin="round"/>
<path d="M476.3 99.0 476.5 98.7 476.8 98.2 477.2 97.6 477.8 96.8 478.4 95.9 479.1 94.9 479.9 93.8 480.8 92.7 481.7 91.6 482.7 90.5 483.7 89.3 484.9 88.1 486.0 87.0 487.2 85.8 488.5 84.7 489.9 83.6 491.2 82.5 492.7 81.4 494.1 80.4 495.7 79.4 497.2 78.4 498.9 77.5 500.5 76.6 502.2 75.7 504.0 74.9 505.8 74.0 507.6 73.2 509.5 72.5 511.4 71.7 513.4 71.0 515.3 70.3 517.4 69.6 519.5 68.9 521.6 68.3 523.7 67.6 525.9 67.0 528.1 66.4 530.4 65.8 532.7 65.2 535.0 64.6 537.4 64.1 539.8 63.5 542.2 62.9 544.7 62.4 547.2 61.9 549.7 61.3 552.3 60.8 554.9 60.3" fill="none" stroke="#1e1e1e" stroke-width="0.75" stroke-opacity="1.0"/>
<path d="M554.9 60.3 555.6 62.8" fill="none" stroke="#1e1e1e" stroke-width="0.75" stroke-opacity="1.0"/>
<path d="M555.60 62.80 C560.17 63.12 575.60 64.27 583.00 64.70 C590.40 65.13 592.17 64.95 600.00 65.40 C607.83 65.85 622.50 66.82 630.00 67.40 C637.50 67.98 637.53 68.30 645.00 68.90 C652.47 69.50 669.83 70.65 674.80 71.00" fill="none" stroke="#1e1e1e" stroke-width="0.75" stroke-opacity="1.0" stroke-linejoin="round"/>
<path d="M476.3 99.0 476.5 98.9 476.8 98.7 477.2 98.4 477.8 98.1 478.4 97.7 479.1 97.3 479.9 96.8 480.8 96.4 481.7 95.8 482.7 95.3 483.7 94.8 484.9 94.2 486.0 93.6 487.2 93.0 488.5 92.4 489.9 91.8 491.2 91.2 492.7 90.6 494.1 90.0 495.7 89.3 497.2 88.7 498.9 88.1 500.5 87.5 502.2 86.9 504.0 86.3 505.8 85.7 507.6 85.1 509.5 84.5 511.4 83.9 513.4 83.3 515.3 82.7 517.4 82.1 519.5 81.5 521.6 80.9 523.7 80.4 525.9 79.8 528.1 79.2 530.4 78.7 532.7 78.1 535.0 77.5 537.4 77.0 539.8 76.4 542.2 75.8 544.7 75.3 547.2 74.7 549.7 74.1 552.3 73.6 554.9 73.0" fill="none" stroke="#1e1e1e" stroke-width="0.75" stroke-opacity="1.0"/>
<path d="M554.9 73.0 555.6 75.2" fill="none" stroke="#1e1e1e" stroke-width="0.75" stroke-opacity="1.0"/>
<path d="M555.60 75.20 C560.17 75.42 570.60 75.93 583.00 76.50 C595.40 77.07 614.70 77.87 630.00 78.60 C645.30 79.33 667.33 80.52 674.80 80.90" fill="none" stroke="#1e1e1e" stroke-width="0.75" stroke-opacity="1.0" stroke-linejoin="round"/>
<path d="M476.3 99.0 476.5 99.0 476.8 98.9 477.2 98.7 477.8 98.6 478.4 98.4 479.1 98.2 479.9 98.0 480.8 97.8 481.7 97.5 482.7 97.3 483.7 97.0 484.9 96.7 486.0 96.4 487.2 96.1 488.5 95.8 489.9 95.4 491.2 95.1 492.7 94.7 494.1 94.4 495.7 94.0 497.2 93.7 498.9 93.3 500.5 92.9 502.2 92.5 504.0 92.1 505.8 91.7 507.6 91.4 509.5 91.0 511.4 90.6 513.4 90.2 515.3 89.8 517.4 89.4 519.5 89.0 521.6 88.6 523.7 88.2 525.9 87.8 528.1 87.4 530.4 87.0 532.7 86.6 535.0 86.2 537.4 85.8 539.8 85.4 542.2 85.0 544.7 84.6 547.2 84.2 549.7 83.9 552.3 83.5 554.9 83.1" fill="none" stroke="#1e1e1e" stroke-width="0.75" stroke-opacity="1.0"/>
<path d="M554.9 83.1 555.6 86.5" fill="none" stroke="#1e1e1e" stroke-width="0.75" stroke-opacity="1.0"/>
<path d="M555.60 86.50 C560.17 86.63 575.60 87.12 583.00 87.30 C590.40 87.48 589.67 87.40 600.00 87.60 C610.33 87.80 632.53 88.18 645.00 88.50 C657.47 88.82 669.83 89.33 674.80 89.50" fill="none" stroke="#1e1e1e" stroke-width="0.75" stroke-opacity="1.0" stroke-linejoin="round"/>
<path d="M476.3 99.0 476.5 97.8 476.8 95.6 477.2 92.7 477.8 89.5 478.4 86.1 479.1 82.7 479.9 79.3 480.8 76.0 481.7 73.0 482.7 70.2 483.7 67.7 484.9 65.3 486.0 63.2 487.2 61.4 488.5 59.7 489.9 58.2 491.2 56.9 492.7 55.6 494.1 54.6 495.7 53.6 497.2 52.7 498.9 51.9 500.5 51.1 502.2 50.4 504.0 49.8 505.8 49.2 507.6 48.6 509.5 48.1 511.4 47.6 513.4 47.1 515.3 46.7 517.4 46.2 519.5 45.8 521.6 45.4 523.7 45.1 525.9 44.7 528.1 44.4 530.4 44.1 532.7 43.7 535.0 43.4 537.4 43.1 539.8 42.8 542.2 42.6 544.7 42.3 547.2 42.0 549.7 41.7 552.3 41.5 554.9 41.2" fill="none" stroke="#6cdada" stroke-width="0.65" stroke-opacity="0.95"/>
<path d="M556.30 43.20 C557.75 43.72 560.55 45.32 565.00 46.30 C569.45 47.28 577.17 48.08 583.00 49.10 C588.83 50.12 592.17 51.60 600.00 52.40 C607.83 53.20 622.50 53.47 630.00 53.90 C637.50 54.33 637.53 54.60 645.00 55.00 C652.47 55.40 669.83 56.08 674.80 56.30" fill="none" stroke="#6cdada" stroke-width="0.65" stroke-opacity="0.95" stroke-linejoin="round"/>
<path d="M476.3 99.0 476.5 98.5 476.8 97.5 477.2 96.1 477.8 94.6 478.4 92.8 479.1 91.0 479.9 89.1 480.8 87.2 481.7 85.3 482.7 83.4 483.7 81.5 484.9 79.8 486.0 78.1 487.2 76.4 488.5 74.9 489.9 73.5 491.2 72.1 492.7 70.8 494.1 69.6 495.7 68.5 497.2 67.5 498.9 66.5 500.5 65.6 502.2 64.7 504.0 63.9 505.8 63.1 507.6 62.4 509.5 61.7 511.4 61.1 513.4 60.4 515.3 59.8 517.4 59.3 519.5 58.7 521.6 58.2 523.7 57.6 525.9 57.1 528.1 56.6 530.4 56.1 532.7 55.7 535.0 55.2 537.4 54.7 539.8 54.3 542.2 53.9 544.7 53.4 547.2 53.0 549.7 52.6 552.3 52.2 554.9 51.8" fill="none" stroke="#ee48ee" stroke-width="0.65" stroke-opacity="0.95"/>
<path d="M557.00 53.40 C561.33 54.10 575.83 56.57 583.00 57.60 C590.17 58.63 592.17 58.95 600.00 59.60 C607.83 60.25 622.50 60.97 630.00 61.50 C637.50 62.03 637.53 62.30 645.00 62.80 C652.47 63.30 669.83 64.22 674.80 64.50" fill="none" stroke="#ee48ee" stroke-width="0.65" stroke-opacity="0.95" stroke-linejoin="round"/>
<path d="M476.3 99.0 476.5 98.7 476.8 98.2 477.2 97.4 477.8 96.5 478.4 95.6 479.1 94.5 479.9 93.4 480.8 92.3 481.7 91.1 482.7 90.0 483.7 88.8 484.9 87.7 486.0 86.6 487.2 85.5 488.5 84.4 489.9 83.4 491.2 82.4 492.7 81.5 494.1 80.6 495.7 79.7 497.2 78.8 498.9 78.0 500.5 77.2 502.2 76.4 504.0 75.7 505.8 74.9 507.6 74.2 509.5 73.6 511.4 72.9 513.4 72.2 515.3 71.6 517.4 71.0 519.5 70.4 521.6 69.8 523.7 69.2 525.9 68.6 528.1 68.1 530.4 67.5 532.7 67.0 535.0 66.5 537.4 66.0 539.8 65.5 542.2 65.0 544.7 64.5 547.2 64.0 549.7 63.6 552.3 63.1 554.9 62.7" fill="none" stroke="#3440d8" stroke-width="0.65" stroke-opacity="0.95"/>
<path d="M557.00 63.40 C561.33 63.90 575.83 65.63 583.00 66.40 C590.17 67.17 592.17 67.52 600.00 68.00 C607.83 68.48 622.50 68.93 630.00 69.30 C637.50 69.67 637.53 69.87 645.00 70.20 C652.47 70.53 669.83 71.12 674.80 71.30" fill="none" stroke="#3440d8" stroke-width="0.65" stroke-opacity="0.95" stroke-linejoin="round"/>
<path d="M476.3 99.0 476.5 98.9 476.8 98.7 477.2 98.4 477.8 98.0 478.4 97.6 479.1 97.1 479.9 96.6 480.8 96.1 481.7 95.6 482.7 95.0 483.7 94.5 484.9 93.9 486.0 93.3 487.2 92.7 488.5 92.1 489.9 91.6 491.2 91.0 492.7 90.4 494.1 89.8 495.7 89.2 497.2 88.7 498.9 88.1 500.5 87.5 502.2 87.0 504.0 86.4 505.8 85.9 507.6 85.3 509.5 84.7 511.4 84.2 513.4 83.6 515.3 83.1 517.4 82.5 519.5 82.0 521.6 81.4 523.7 80.8 525.9 80.3 528.1 79.7 530.4 79.1 532.7 78.6 535.0 78.0 537.4 77.4 539.8 76.8 542.2 76.2 544.7 75.6 547.2 75.0 549.7 74.4 552.3 73.7 554.9 73.1" fill="none" stroke="#3c8a46" stroke-width="0.65" stroke-opacity="0.95"/>
<path d="M558.20 73.90 C562.33 74.27 576.03 75.50 583.00 76.10 C589.97 76.70 592.17 77.10 600.00 77.50 C607.83 77.90 622.50 78.23 630.00 78.50 C637.50 78.77 637.53 78.73 645.00 79.10 C652.47 79.47 669.83 80.43 674.80 80.70" fill="none" stroke="#3c8a46" stroke-width="0.65" stroke-opacity="0.95" stroke-linejoin="round"/>
<path d="M476.3 99.0 476.5 98.9 476.8 98.8 477.2 98.7 477.8 98.5 478.4 98.3 479.1 98.1 479.9 97.9 480.8 97.6 481.7 97.4 482.7 97.1 483.7 96.8 484.9 96.5 486.0 96.2 487.2 95.8 488.5 95.5 489.9 95.2 491.2 94.8 492.7 94.5 494.1 94.1 495.7 93.8 497.2 93.4 498.9 93.0 500.5 92.7 502.2 92.3 504.0 91.9 505.8 91.6 507.6 91.2 509.5 90.8 511.4 90.5 513.4 90.1 515.3 89.7 517.4 89.3 519.5 89.0 521.6 88.6 523.7 88.2 525.9 87.9 528.1 87.5 530.4 87.1 532.7 86.8 535.0 86.4 537.4 86.0 539.8 85.6 542.2 85.3 544.7 84.9 547.2 84.5 549.7 84.1 552.3 83.8 554.9 83.4" fill="none" stroke="#e45a5a" stroke-width="0.65" stroke-opacity="0.95"/>
<path d="M558.20 83.40 C562.33 83.62 576.03 84.37 583.00 84.70 C589.97 85.03 592.17 85.17 600.00 85.40 C607.83 85.63 617.53 85.80 630.00 86.10 C642.47 86.40 667.33 87.02 674.80 87.20" fill="none" stroke="#e45a5a" stroke-width="0.65" stroke-opacity="0.95" stroke-linejoin="round"/>
<path d="M476.2 100.6 476.9 97.0" fill="none" stroke="#111" stroke-width="1.3" stroke-opacity="1"/>
<path d="M476.8 100.2 478.2 96.8" fill="none" stroke="#223" stroke-width="0.9" stroke-opacity="1"/>
<line x1="476.10" y1="100.50" x2="476.10" y2="116.60" stroke="#4a9a54" stroke-width="1.2"/>
<text x="456.80" y="166.30" font-size="9.4" font-weight="bold" stroke="#111" stroke-width="0.2">k</text>
<text x="460.70" y="166.30" font-size="6.2" textLength="7.90" lengthAdjust="spacingAndGlyphs" stroke="#222" stroke-width="0.3">on</text>
<text x="471.10" y="166.30" font-size="9.6" font-weight="bold" textLength="68.60" lengthAdjust="spacingAndGlyphs" stroke="#111" stroke-width="0.2">(1/Ms)=1.872×10</text>
<text x="540.50" y="163.30" font-size="6.4" font-weight="bold" textLength="2.90" lengthAdjust="spacingAndGlyphs" stroke="#111" stroke-width="0.2">6</text>
<text x="456.80" y="182.00" font-size="9.4" font-weight="bold" stroke="#111" stroke-width="0.2">k</text>
<text x="460.70" y="182.00" font-size="6.2" textLength="7.90" lengthAdjust="spacingAndGlyphs" stroke="#222" stroke-width="0.3">off</text>
<text x="471.70" y="182.00" font-size="9.6" font-weight="bold" textLength="61.60" lengthAdjust="spacingAndGlyphs" stroke="#111" stroke-width="0.2">(1/s)=1.228×10</text>
<text x="534.10" y="179.00" font-size="6.4" font-weight="bold" textLength="5.10" lengthAdjust="spacingAndGlyphs" stroke="#111" stroke-width="0.2">-3</text>
<text x="561.00" y="168.00" font-size="9.4" font-weight="bold" stroke="#111" stroke-width="0.2">K</text>
<text x="567.20" y="168.00" font-size="5.8" stroke="#222" stroke-width="0.3">D</text>
<text x="570.70" y="168.00" font-size="9.6" font-weight="bold" textLength="56.50" lengthAdjust="spacingAndGlyphs" stroke="#111" stroke-width="0.2">(M)=0.689×10</text>
<text x="628.00" y="165.20" font-size="5.8" font-weight="bold" textLength="5.70" lengthAdjust="spacingAndGlyphs" stroke="#111" stroke-width="0.2">-9</text>
<text x="561.60" y="181.30" font-size="9.4" font-weight="bold" stroke="#111" stroke-width="0.2">R</text>
<text x="566.90" y="181.30" font-size="5.8" textLength="12.20" lengthAdjust="spacingAndGlyphs" stroke="#222" stroke-width="0.3">max</text>
<text x="580.80" y="181.30" font-size="9.8" font-weight="bold" textLength="18.10" lengthAdjust="spacingAndGlyphs" stroke="#111" stroke-width="0.2">(RU)</text>
<text x="600.10" y="181.30" font-size="9.4" font-weight="bold" textLength="4.90" lengthAdjust="spacingAndGlyphs" stroke="#111" stroke-width="0.2">=</text>
<text x="606.30" y="181.30" font-size="9.6" font-weight="bold" textLength="23.20" lengthAdjust="spacingAndGlyphs" stroke="#111" stroke-width="0.2">24.71</text>
<text x="6.60" y="223.00" font-size="12.6" font-weight="bold" fill="#000" stroke="#000" stroke-width="0.35">C</text>
<text x="91.40" y="229.70" font-size="8.4" font-weight="bold" textLength="37.60" lengthAdjust="spacingAndGlyphs" >VHH-VHH</text>
<text x="131.90" y="229.70" font-size="7" font-weight="bold" textLength="46.70" lengthAdjust="spacingAndGlyphs" >expressed by</text>
<text x="180.60" y="229.60" font-size="6.8" font-style="italic" textLength="5.30" lengthAdjust="spacingAndGlyphs" stroke="#111" stroke-width="0.3">P.</text>
<text x="186.20" y="229.60" font-size="6.8" font-weight="bold" font-style="italic" textLength="23.40" lengthAdjust="spacingAndGlyphs" >pastoris</text>
<text x="211.60" y="229.70" font-size="6.6" font-weight="bold" textLength="13.00" lengthAdjust="spacingAndGlyphs" >X33</text>
<text x="14.60" y="243.80" font-size="7.6" fill="#333" textLength="9.20" lengthAdjust="spacingAndGlyphs" >RU</text>
<line x1="36.30" y1="253.10" x2="36.30" y2="358.80" stroke="#000" stroke-width="2.1"/>
<line x1="35.30" y1="357.70" x2="314.90" y2="357.70" stroke="#000" stroke-width="2.2"/>
<line x1="33.60" y1="253.40" x2="35.30" y2="253.40" stroke="#666" stroke-width="0.6"/>
<text x="29.40" y="256.40" font-size="7.6" text-anchor="end" fill="#3a3a3a" >60</text>
<line x1="33.60" y1="280.00" x2="35.30" y2="280.00" stroke="#666" stroke-width="0.6"/>
<text x="29.10" y="282.80" font-size="7.6" text-anchor="end" fill="#3a3a3a" >40</text>
<line x1="33.60" y1="306.60" x2="35.30" y2="306.60" stroke="#666" stroke-width="0.6"/>
<text x="29.10" y="310.00" font-size="7.6" text-anchor="end" fill="#3a3a3a" >20</text>
<line x1="33.60" y1="333.30" x2="35.30" y2="333.30" stroke="#666" stroke-width="0.6"/>
<text x="30.30" y="339.30" font-size="7.6" text-anchor="end" fill="#3a3a3a" >0</text>
<line x1="33.60" y1="358.60" x2="35.30" y2="358.60" stroke="#666" stroke-width="0.6"/>
<text x="31.20" y="362.00" font-size="7.6" text-anchor="end" fill="#3a3a3a" >-20</text>
<line x1="35.60" y1="358.20" x2="35.60" y2="360.00" stroke="#666" stroke-width="0.6"/>
<text x="35.60" y="368.30" font-size="6.7" text-anchor="middle" fill="#444" >-100</text>
<line x1="69.30" y1="358.20" x2="69.30" y2="360.00" stroke="#666" stroke-width="0.6"/>
<text x="69.30" y="368.30" font-size="6.7" text-anchor="middle" fill="#444" >-50</text>
<line x1="103.00" y1="358.20" x2="103.00" y2="360.00" stroke="#666" stroke-width="0.6"/>
<text x="103.00" y="368.30" font-size="6.7" text-anchor="middle" fill="#444" >0</text>
<line x1="136.70" y1="358.20" x2="136.70" y2="360.00" stroke="#666" stroke-width="0.6"/>
<text x="136.70" y="368.30" font-size="6.7" text-anchor="middle" fill="#444" >50</text>
<line x1="170.40" y1="358.20" x2="170.40" y2="360.00" stroke="#666" stroke-width="0.6"/>
<text x="170.40" y="368.30" font-size="6.7" text-anchor="middle" fill="#444" >100</text>
<line x1="204.10" y1="358.20" x2="204.10" y2="360.00" stroke="#666" stroke-width="0.6"/>
<text x="204.10" y="368.30" font-size="6.7" text-anchor="middle" fill="#444" >150</text>
<line x1="237.80" y1="358.20" x2="237.80" y2="360.00" stroke="#666" stroke-width="0.6"/>
<text x="237.80" y="368.30" font-size="6.7" text-anchor="middle" fill="#444" >200</text>
<line x1="271.50" y1="358.20" x2="271.50" y2="360.00" stroke="#666" stroke-width="0.6"/>
<text x="271.50" y="368.30" font-size="6.7" text-anchor="middle" fill="#444" >250</text>
<line x1="305.20" y1="358.20" x2="305.20" y2="360.00" stroke="#666" stroke-width="0.6"/>
<text x="305.20" y="368.30" font-size="6.7" text-anchor="middle" fill="#444" >300</text>
<text x="5.50" y="314.30" font-size="8.0" text-anchor="middle" textLength="36.40" lengthAdjust="spacingAndGlyphs" transform="rotate(-90 5.50 314.30)" stroke="#111" stroke-width="0.4">Response</text>
<text x="195.30" y="381.60" font-size="6.8" font-weight="bold" textLength="17.20" lengthAdjust="spacingAndGlyphs" >Tim e</text>
<text x="302.80" y="383.40" font-size="8.6" fill="#222" >S</text>
<line x1="47.80" y1="275.50" x2="58.00" y2="275.50" stroke="#86e6e6" stroke-width="1.05"/>
<text x="60.50" y="278.50" font-size="8.7" >750</text>
<text x="81.00" y="278.50" font-size="8.0" textLength="11.10" lengthAdjust="spacingAndGlyphs" >nM</text>
<line x1="47.80" y1="284.20" x2="58.00" y2="284.20" stroke="#ff5cff" stroke-width="1.05"/>
<text x="60.50" y="287.90" font-size="8.7" >375</text>
<text x="82.00" y="287.90" font-size="8.0" textLength="10.40" lengthAdjust="spacingAndGlyphs" >nM</text>
<line x1="47.80" y1="293.50" x2="58.00" y2="293.50" stroke="#3840e4" stroke-width="1.05"/>
<text x="60.50" y="296.90" font-size="8.7" >187.5</text>
<text x="83.70" y="296.90" font-size="8.0" textLength="11.10" lengthAdjust="spacingAndGlyphs" >nM</text>
<line x1="47.80" y1="302.20" x2="58.00" y2="302.20" stroke="#3c8c44" stroke-width="1.05"/>
<text x="60.50" y="306.00" font-size="8.7" >93.75</text>
<text x="84.70" y="306.00" font-size="8.0" textLength="11.40" lengthAdjust="spacingAndGlyphs" >nM</text>
<line x1="47.80" y1="311.50" x2="58.00" y2="311.50" stroke="#f06868" stroke-width="1.05"/>
<text x="60.50" y="315.90" font-size="8.7" >46.875</text>
<text x="89.60" y="315.90" font-size="8.0" textLength="10.60" lengthAdjust="spacingAndGlyphs" >nM</text>
<path d="M63.8 333.3 102.7 333.3" fill="none" stroke="#b8aa78" stroke-width="0.8" stroke-opacity="1"/>
<path d="M102.6 333.5 102.6 336.8" fill="none" stroke="#556" stroke-width="0.8" stroke-opacity="1"/>
<path d="M103.0 332.5 103.0 321.0" fill="none" stroke="#d8d070" stroke-width="0.6" stroke-opacity="1"/>
<path d="M102.7 333.1 102.9 330.7 103.2 327.0 103.6 323.5 104.2 320.5 104.8 317.7 105.5 315.1 106.3 312.5 107.1 309.8 108.0 307.1 109.0 304.3 110.1 301.5 111.2 298.7 112.3 296.0 113.5 293.3 114.8 290.6 116.1 288.0 117.5 285.6 118.9 283.2 120.4 280.9 121.9 278.8 123.4 276.7 125.0 274.8 126.7 272.9 128.4 271.2 130.1 269.6 131.9 268.1 133.7 266.7 135.5 265.5 137.4 264.3 139.4 263.2 141.4 262.2 143.4 261.3 145.4 260.4 147.5 259.7 149.6 259.0 151.8 258.4 154.0 257.8 156.2 257.3 158.5 256.8 160.8 256.4 163.2 256.1 165.5 255.7 167.9 255.4 170.4 255.2 172.9 255.0 175.4 254.8 177.9 254.6 180.5 254.4 181.4 255.2 181.4 255.2 185.6 255.3 189.8 255.3 193.9 255.4 198.1 255.4 202.3 255.5 206.5 255.5 210.7 255.6 214.9 255.6 219.1 255.7 223.2 255.7 227.4 255.8 231.6 255.8 235.8 255.9 240.0 255.9 244.1 255.9 248.3 256.0 252.5 256.0 256.7 256.1 260.9 256.1 265.1 256.1 269.2 256.2 273.4 256.2 277.6 256.2 281.8 256.2 286.0 256.3 290.2 256.3 294.3 256.3 298.5 256.4 302.7 256.4 306.9 256.4" fill="none" stroke="#303030" stroke-width="0.6" stroke-opacity="1.0"/>
<path d="M102.7 333.1 102.9 332.6 103.2 331.5 103.6 330.1 104.2 328.4 104.8 326.6 105.5 324.6 106.3 322.6 107.1 320.5 108.0 318.3 109.0 316.1 110.0 314.0 111.1 311.8 112.3 309.6 113.5 307.5 114.8 305.4 116.1 303.3 117.4 301.3 118.9 299.2 120.3 297.3 121.8 295.3 123.4 293.4 125.0 291.5 126.6 289.7 128.3 287.9 130.0 286.2 131.8 284.5 133.6 282.9 135.5 281.3 137.4 279.8 139.3 278.3 141.3 276.9 143.3 275.5 145.3 274.2 147.4 272.9 149.5 271.7 151.7 270.6 153.9 269.5 156.1 268.4 158.4 267.4 160.7 266.4 163.0 265.5 165.4 264.7 167.8 263.9 170.2 263.1 172.7 262.4 175.2 261.7 177.7 261.0 180.3 260.4 181.4 261.8 181.4 261.8 185.6 261.9 189.8 261.9 193.9 262.0 198.1 262.0 202.3 262.1 206.5 262.1 210.7 262.2 214.9 262.2 219.1 262.3 223.2 262.3 227.4 262.4 231.6 262.4 235.8 262.5 240.0 262.5 244.1 262.5 248.3 262.6 252.5 262.6 256.7 262.7 260.9 262.7 265.1 262.7 269.2 262.8 273.4 262.8 277.6 262.8 281.8 262.8 286.0 262.9 290.2 262.9 294.3 262.9 298.5 263.0 302.7 263.0 306.9 263.0" fill="none" stroke="#303030" stroke-width="0.6" stroke-opacity="1.0"/>
<path d="M102.7 333.1 102.9 332.8 103.2 332.3 103.6 331.6 104.2 330.8 104.8 329.8 105.5 328.7 106.3 327.5 107.1 326.3 108.0 325.0 109.0 323.6 110.1 322.2 111.2 320.8 112.3 319.3 113.5 317.8 114.8 316.2 116.1 314.7 117.5 313.1 118.9 311.6 120.4 310.0 121.9 308.5 123.4 306.9 125.0 305.3 126.7 303.8 128.4 302.3 130.1 300.8 131.9 299.3 133.7 297.8 135.5 296.4 137.4 295.0 139.4 293.6 141.4 292.3 143.4 291.0 145.4 289.7 147.5 288.4 149.6 287.2 151.8 286.0 154.0 284.8 156.2 283.7 158.5 282.6 160.8 281.5 163.2 280.5 165.5 279.5 167.9 278.6 170.4 277.6 172.9 276.7 175.4 275.8 177.9 275.0 180.5 274.2 181.4 279.1 181.4 279.1 185.6 279.1 189.8 279.1 193.9 279.2 198.1 279.2 202.3 279.2 206.5 279.2 210.7 279.2 214.9 279.2 219.1 279.3 223.2 279.3 227.4 279.3 231.6 279.3 235.8 279.3 240.0 279.3 244.1 279.3 248.3 279.4 252.5 279.4 256.7 279.4 260.9 279.4 265.1 279.4 269.2 279.4 273.4 279.4 277.6 279.4 281.8 279.4 286.0 279.5 290.2 279.5 294.3 279.5 298.5 279.5 302.7 279.5 306.9 279.5" fill="none" stroke="#303030" stroke-width="0.6" stroke-opacity="1.0"/>
<path d="M102.7 333.1 102.9 332.9 103.2 332.5 103.6 332.0 104.2 331.4 104.8 330.7 105.5 330.0 106.3 329.1 107.2 328.3 108.1 327.4 109.1 326.4 110.1 325.5 111.3 324.5 112.4 323.5 113.6 322.5 114.9 321.5 116.3 320.5 117.6 319.5 119.1 318.5 120.5 317.5 122.1 316.5 123.6 315.6 125.3 314.6 126.9 313.7 128.6 312.7 130.4 311.8 132.2 310.9 134.0 310.0 135.9 309.1 137.8 308.3 139.8 307.4 141.7 306.6 143.8 305.7 145.9 304.9 148.0 304.0 150.1 303.2 152.3 302.4 154.5 301.6 156.8 300.8 159.1 300.0 161.4 299.1 163.8 298.3 166.2 297.5 168.6 296.7 171.1 295.9 173.6 295.1 176.1 294.3 178.7 293.4 181.3 292.6 181.4 297.8 181.4 297.8 185.6 297.9 189.8 297.9 193.9 298.0 198.1 298.1 202.3 298.1 206.5 298.2 210.7 298.2 214.9 298.3 219.1 298.3 223.2 298.4 227.4 298.4 231.6 298.5 235.8 298.5 240.0 298.6 244.1 298.6 248.3 298.7 252.5 298.7 256.7 298.7 260.9 298.8 265.1 298.8 269.2 298.8 273.4 298.9 277.6 298.9 281.8 298.9 286.0 299.0 290.2 299.0 294.3 299.0 298.5 299.0 302.7 299.1 306.9 299.1" fill="none" stroke="#303030" stroke-width="0.6" stroke-opacity="1.0"/>
<path d="M102.7 333.1 102.9 333.0 103.2 332.8 103.6 332.6 104.2 332.3 104.8 331.9 105.5 331.5 106.3 331.1 107.2 330.7 108.1 330.2 109.1 329.8 110.1 329.3 111.3 328.8 112.4 328.2 113.6 327.7 114.9 327.2 116.3 326.6 117.6 326.1 119.1 325.5 120.5 325.0 122.1 324.4 123.6 323.9 125.3 323.3 126.9 322.7 128.6 322.2 130.4 321.6 132.2 321.0 134.0 320.5 135.9 319.9 137.8 319.3 139.8 318.8 141.7 318.2 143.8 317.6 145.9 317.0 148.0 316.4 150.1 315.8 152.3 315.2 154.5 314.6 156.8 314.0 159.1 313.4 161.4 312.8 163.8 312.2 166.2 311.5 168.6 310.9 171.1 310.2 173.6 309.6 176.1 308.9 178.7 308.3 181.3 307.6 181.4 313.5 181.4 313.5 185.6 313.5 189.8 313.5 193.9 313.5 198.1 313.5 202.3 313.5 206.5 313.5 210.7 313.5 214.9 313.5 219.1 313.5 223.2 313.5 227.4 313.5 231.6 313.6 235.8 313.6 240.0 313.6 244.1 313.6 248.3 313.6 252.5 313.6 256.7 313.6 260.9 313.6 265.1 313.6 269.2 313.6 273.4 313.6 277.6 313.6 281.8 313.6 286.0 313.6 290.2 313.6 294.3 313.6 298.5 313.6 302.7 313.6 306.9 313.6" fill="none" stroke="#303030" stroke-width="0.6" stroke-opacity="1.0"/>
<path d="M102.7 333.1 102.9 330.7 103.2 326.3 103.6 321.4 104.2 316.7 104.8 312.5 105.5 308.9 106.3 305.7 107.1 302.8 108.0 300.2 109.0 297.8 110.1 295.5 111.2 293.3 112.3 291.1 113.5 289.0 114.8 287.0 116.1 285.0 117.5 283.2 118.9 281.4 120.4 279.6 121.9 278.0 123.4 276.5 125.0 275.0 126.7 273.6 128.4 272.3 130.1 271.1 131.9 269.9 133.7 268.8 135.5 267.7 137.4 266.7 139.4 265.8 141.4 264.9 143.4 264.1 145.4 263.2 147.5 262.5 149.6 261.7 151.8 261.0 154.0 260.3 156.2 259.6 158.5 259.0 160.8 258.3 163.2 257.7 165.5 257.1 167.9 256.5 170.4 255.9 172.9 255.3 175.4 254.7 177.9 254.1 180.5 253.5 181.7 255.6 182.4 255.6 186.6 255.9 190.7 256.2 194.8 256.4 199.0 256.7 203.2 256.9 207.3 257.1 211.4 257.3 215.6 257.5 219.8 257.7 223.9 257.9 228.0 258.0 232.2 258.1 236.3 258.3 240.5 258.4 244.6 258.5 248.8 258.6 252.9 258.7 257.1 258.8 261.2 258.9 265.4 259.0 269.5 259.1 273.7 259.2 277.9 259.2 282.0 259.3 286.1 259.4 290.3 259.4 294.4 259.5 298.6 259.5 302.8 259.6 306.9 259.6" fill="none" stroke="#6cdada" stroke-width="0.6" stroke-opacity="0.95"/>
<path d="M102.7 333.1 102.9 332.2 103.2 330.5 103.6 328.3 104.2 325.8 104.8 323.2 105.5 320.4 106.3 317.7 107.1 315.0 108.0 312.4 109.0 310.0 110.1 307.7 111.2 305.5 112.3 303.4 113.5 301.5 114.8 299.6 116.1 297.9 117.5 296.3 118.9 294.7 120.4 293.2 121.9 291.8 123.4 290.4 125.0 289.0 126.7 287.7 128.4 286.5 130.1 285.2 131.9 284.0 133.7 282.9 135.5 281.7 137.4 280.6 139.4 279.5 141.4 278.5 143.4 277.5 145.4 276.5 147.5 275.5 149.6 274.6 151.8 273.7 154.0 272.8 156.2 272.0 158.5 271.1 160.8 270.4 163.2 269.6 165.5 268.9 167.9 268.2 170.4 267.5 172.9 266.9 175.4 266.3 177.9 265.7 180.5 265.2 181.7 267.4 182.4 267.4 186.6 267.5 190.7 267.7 194.8 267.8 199.0 267.9 203.2 268.1 207.3 268.2 211.4 268.3 215.6 268.4 219.8 268.4 223.9 268.5 228.0 268.6 232.2 268.7 236.3 268.7 240.5 268.8 244.6 268.9 248.8 268.9 252.9 269.0 257.1 269.0 261.2 269.1 265.4 269.1 269.5 269.1 273.7 269.2 277.9 269.2 282.0 269.2 286.1 269.3 290.3 269.3 294.4 269.3 298.6 269.4 302.8 269.4 306.9 269.4" fill="none" stroke="#ee48ee" stroke-width="0.6" stroke-opacity="0.95"/>
<path d="M102.7 333.1 102.9 332.7 103.2 331.9 103.6 330.8 104.2 329.5 104.8 328.1 105.5 326.6 106.3 325.0 107.1 323.4 108.0 321.7 109.0 320.0 110.1 318.4 111.2 316.7 112.3 315.1 113.5 313.5 114.8 312.0 116.1 310.5 117.5 309.0 118.9 307.6 120.4 306.2 121.9 304.8 123.4 303.5 125.0 302.2 126.7 301.0 128.4 299.7 130.1 298.6 131.9 297.4 133.7 296.3 135.5 295.2 137.4 294.1 139.4 293.1 141.4 292.1 143.4 291.1 145.4 290.2 147.5 289.3 149.6 288.4 151.8 287.5 154.0 286.7 156.2 285.8 158.5 285.1 160.8 284.3 163.2 283.6 165.5 282.9 167.9 282.2 170.4 281.5 172.9 280.9 175.4 280.3 177.9 279.7 180.5 279.1 181.7 279.8 182.4 279.8 186.6 279.9 190.7 280.0 194.8 280.1 199.0 280.2 203.2 280.3 207.3 280.4 211.4 280.5 215.6 280.6 219.8 280.6 223.9 280.7 228.0 280.8 232.2 280.8 236.3 280.9 240.5 281.0 244.6 281.0 248.8 281.1 252.9 281.1 257.1 281.2 261.2 281.2 265.4 281.3 269.5 281.3 273.7 281.3 277.9 281.4 282.0 281.4 286.1 281.5 290.3 281.5 294.4 281.5 298.6 281.5 302.8 281.6 306.9 281.6" fill="none" stroke="#3440d8" stroke-width="0.6" stroke-opacity="0.95"/>
<path d="M102.7 333.1 102.9 332.9 103.2 332.5 103.6 332.0 104.2 331.3 104.8 330.6 105.5 329.8 106.3 328.9 107.2 328.0 108.1 327.1 109.1 326.2 110.1 325.2 111.3 324.2 112.4 323.2 113.6 322.2 114.9 321.2 116.3 320.3 117.6 319.3 119.1 318.3 120.5 317.4 122.1 316.5 123.6 315.5 125.3 314.6 126.9 313.8 128.6 312.9 130.4 312.0 132.2 311.2 134.0 310.4 135.9 309.5 137.8 308.7 139.8 307.9 141.7 307.1 143.8 306.4 145.9 305.6 148.0 304.8 150.1 304.0 152.3 303.3 154.5 302.5 156.8 301.8 159.1 301.0 161.4 300.2 163.8 299.5 166.2 298.7 168.6 297.9 171.1 297.2 173.6 296.4 176.1 295.6 178.7 294.8 181.3 294.0 181.7 294.6 182.4 294.6 186.6 294.7 190.7 294.7 194.8 294.8 199.0 294.9 203.2 294.9 207.3 295.0 211.4 295.1 215.6 295.1 219.8 295.2 223.9 295.2 228.0 295.3 232.2 295.3 236.3 295.4 240.5 295.4 244.6 295.4 248.8 295.5 252.9 295.5 257.1 295.6 261.2 295.6 265.4 295.6 269.5 295.7 273.7 295.7 277.9 295.7 282.0 295.7 286.1 295.8 290.3 295.8 294.4 295.8 298.6 295.9 302.8 295.9 306.9 295.9" fill="none" stroke="#3c8a46" stroke-width="0.6" stroke-opacity="0.95"/>
<path d="M102.7 333.1 102.9 333.0 103.2 332.8 103.6 332.5 104.2 332.2 104.8 331.8 105.5 331.4 106.3 331.0 107.2 330.5 108.1 330.0 109.1 329.5 110.1 329.0 111.3 328.5 112.4 328.0 113.6 327.4 114.9 326.9 116.3 326.4 117.6 325.8 119.1 325.3 120.5 324.7 122.1 324.2 123.6 323.6 125.3 323.1 126.9 322.5 128.6 322.0 130.4 321.5 132.2 320.9 134.0 320.4 135.9 319.8 137.8 319.3 139.8 318.7 141.7 318.2 143.8 317.6 145.9 317.1 148.0 316.5 150.1 315.9 152.3 315.4 154.5 314.8 156.8 314.2 159.1 313.6 161.4 313.0 163.8 312.4 166.2 311.8 168.6 311.2 171.1 310.6 173.6 309.9 176.1 309.3 178.7 308.7 181.3 308.0 181.7 308.3 182.4 308.3 186.6 308.3 190.7 308.3 194.8 308.4 199.0 308.4 203.2 308.4 207.3 308.4 211.4 308.4 215.6 308.4 219.8 308.5 223.9 308.5 228.0 308.5 232.2 308.5 236.3 308.5 240.5 308.5 244.6 308.5 248.8 308.6 252.9 308.6 257.1 308.6 261.2 308.6 265.4 308.6 269.5 308.6 273.7 308.6 277.9 308.6 282.0 308.6 286.1 308.7 290.3 308.7 294.4 308.7 298.6 308.7 302.8 308.7 306.9 308.7" fill="none" stroke="#e45a5a" stroke-width="0.6" stroke-opacity="0.95"/>
<text x="75.50" y="401.80" font-size="9.4" font-weight="bold" stroke="#111" stroke-width="0.2">k</text>
<text x="79.40" y="401.80" font-size="6.2" textLength="7.90" lengthAdjust="spacingAndGlyphs" stroke="#222" stroke-width="0.3">on</text>
<text x="90.40" y="401.80" font-size="9.6" font-weight="bold" textLength="72.60" lengthAdjust="spacingAndGlyphs" stroke="#111" stroke-width="0.2">(1/Ms)=5.208×10</text>
<text x="163.80" y="398.80" font-size="6.4" font-weight="bold" textLength="2.90" lengthAdjust="spacingAndGlyphs" stroke="#111" stroke-width="0.2">4</text>
<text x="75.50" y="418.30" font-size="9.4" font-weight="bold" stroke="#111" stroke-width="0.2">k</text>
<text x="79.40" y="418.30" font-size="6.2" textLength="7.90" lengthAdjust="spacingAndGlyphs" stroke="#222" stroke-width="0.3">off</text>
<text x="91.00" y="418.30" font-size="9.6" font-weight="bold" textLength="66.40" lengthAdjust="spacingAndGlyphs" stroke="#111" stroke-width="0.2">(1/s)=8.798×10</text>
<text x="158.20" y="415.30" font-size="6.4" font-weight="bold" textLength="4.10" lengthAdjust="spacingAndGlyphs" stroke="#111" stroke-width="0.2">-5</text>
<text x="184.90" y="403.40" font-size="9.4" font-weight="bold" stroke="#111" stroke-width="0.2">K</text>
<text x="191.10" y="403.40" font-size="5.8" stroke="#222" stroke-width="0.3">D</text>
<text x="194.60" y="403.40" font-size="9.6" font-weight="bold" textLength="60.00" lengthAdjust="spacingAndGlyphs" stroke="#111" stroke-width="0.2">(M)=1.698×10</text>
<text x="255.40" y="400.60" font-size="5.8" font-weight="bold" textLength="5.60" lengthAdjust="spacingAndGlyphs" stroke="#111" stroke-width="0.2">-9</text>
<text x="185.50" y="417.40" font-size="9.4" font-weight="bold" stroke="#111" stroke-width="0.2">R</text>
<text x="190.80" y="417.40" font-size="5.8" textLength="12.20" lengthAdjust="spacingAndGlyphs" stroke="#222" stroke-width="0.3">max</text>
<text x="204.70" y="417.40" font-size="9.8" font-weight="bold" textLength="21.70" lengthAdjust="spacingAndGlyphs" stroke="#111" stroke-width="0.2">(RU)</text>
<text x="228.00" y="417.40" font-size="9.4" font-weight="bold" textLength="4.90" lengthAdjust="spacingAndGlyphs" stroke="#111" stroke-width="0.2">=</text>
<text x="233.50" y="417.40" font-size="9.6" font-weight="bold" textLength="21.30" lengthAdjust="spacingAndGlyphs" stroke="#111" stroke-width="0.2">57.81</text>
<text x="362.50" y="218.40" font-size="12.4" font-weight="bold" fill="#000" stroke="#000" stroke-width="0.35">D</text>
<text x="492.00" y="223.50" font-size="8.4" font-weight="bold" textLength="150.40" lengthAdjust="spacingAndGlyphs" >VHH-VHH-Fc expressed by HEK 293F</text>
<text x="388.70" y="222.20" font-size="7.2" fill="#556" textLength="9.40" lengthAdjust="spacingAndGlyphs" >RU</text>
<line x1="408.70" y1="230.40" x2="408.70" y2="363.80" stroke="#000" stroke-width="2.1"/>
<line x1="407.70" y1="362.80" x2="683.90" y2="362.80" stroke="#000" stroke-width="2.1"/>
<line x1="405.60" y1="231.10" x2="407.70" y2="231.10" stroke="#666" stroke-width="0.6"/>
<text x="401.70" y="234.70" font-size="9.4" text-anchor="end" fill="#222" letter-spacing="-0.9">80</text>
<line x1="405.60" y1="260.50" x2="407.70" y2="260.50" stroke="#666" stroke-width="0.6"/>
<text x="401.40" y="263.40" font-size="8.0" text-anchor="end" fill="#505050" >60</text>
<line x1="405.60" y1="289.90" x2="407.70" y2="289.90" stroke="#666" stroke-width="0.6"/>
<text x="401.50" y="293.10" font-size="8.0" text-anchor="end" fill="#505050" >40</text>
<line x1="405.60" y1="319.00" x2="407.70" y2="319.00" stroke="#666" stroke-width="0.6"/>
<text x="401.50" y="321.60" font-size="8.0" text-anchor="end" fill="#505050" >20</text>
<line x1="405.60" y1="348.30" x2="407.70" y2="348.30" stroke="#666" stroke-width="0.6"/>
<text x="401.10" y="351.00" font-size="8.0" text-anchor="end" fill="#505050" >0</text>
<line x1="405.60" y1="362.80" x2="407.70" y2="362.80" stroke="#666" stroke-width="0.6"/>
<text x="401.50" y="365.50" font-size="8.0" text-anchor="end" fill="#505050" >-10</text>
<line x1="408.00" y1="363.80" x2="408.00" y2="365.60" stroke="#666" stroke-width="0.6"/>
<text x="408.00" y="373.10" font-size="6.8" text-anchor="middle" fill="#444" >-100</text>
<line x1="441.30" y1="363.80" x2="441.30" y2="365.60" stroke="#666" stroke-width="0.6"/>
<text x="441.30" y="373.10" font-size="6.8" text-anchor="middle" fill="#444" >-50</text>
<line x1="474.60" y1="363.80" x2="474.60" y2="365.60" stroke="#666" stroke-width="0.6"/>
<text x="474.60" y="373.10" font-size="6.8" text-anchor="middle" fill="#444" >0</text>
<line x1="507.90" y1="363.80" x2="507.90" y2="365.60" stroke="#666" stroke-width="0.6"/>
<text x="507.90" y="373.10" font-size="6.8" text-anchor="middle" fill="#444" >50</text>
<line x1="541.20" y1="363.80" x2="541.20" y2="365.60" stroke="#666" stroke-width="0.6"/>
<text x="541.20" y="373.10" font-size="6.8" text-anchor="middle" fill="#444" >100</text>
<line x1="574.50" y1="363.80" x2="574.50" y2="365.60" stroke="#666" stroke-width="0.6"/>
<text x="574.50" y="373.10" font-size="6.8" text-anchor="middle" fill="#444" >150</text>
<line x1="607.80" y1="363.80" x2="607.80" y2="365.60" stroke="#666" stroke-width="0.6"/>
<text x="607.80" y="373.10" font-size="6.8" text-anchor="middle" fill="#444" >200</text>
<line x1="641.10" y1="363.80" x2="641.10" y2="365.60" stroke="#666" stroke-width="0.6"/>
<text x="641.10" y="373.10" font-size="6.8" text-anchor="middle" fill="#444" >250</text>
<line x1="674.40" y1="363.80" x2="674.40" y2="365.60" stroke="#666" stroke-width="0.6"/>
<text x="674.40" y="373.10" font-size="6.8" text-anchor="middle" fill="#444" >300</text>
<text x="376.60" y="295.50" font-size="8.0" text-anchor="middle" textLength="37.00" lengthAdjust="spacingAndGlyphs" transform="rotate(-90 376.60 295.50)" stroke="#111" stroke-width="0.4">Response</text>
<text x="565.80" y="386.20" font-size="6.8" font-weight="bold" textLength="17.80" lengthAdjust="spacingAndGlyphs" >Tim e</text>
<text x="672.60" y="388.30" font-size="8.2" fill="#222" >S</text>
<line x1="419.90" y1="263.90" x2="430.10" y2="263.90" stroke="#86e6e6" stroke-width="1.05"/>
<text x="433.20" y="266.80" font-size="8.5" >750</text>
<text x="452.80" y="266.80" font-size="8.1" textLength="11.20" lengthAdjust="spacingAndGlyphs" >nM</text>
<line x1="419.90" y1="272.40" x2="430.10" y2="272.40" stroke="#ff5cff" stroke-width="1.05"/>
<text x="433.20" y="276.30" font-size="8.5" >375</text>
<text x="453.70" y="276.30" font-size="8.1" textLength="10.60" lengthAdjust="spacingAndGlyphs" >nM</text>
<line x1="419.90" y1="281.30" x2="430.10" y2="281.30" stroke="#3840e4" stroke-width="1.05"/>
<text x="433.20" y="286.00" font-size="8.5" >187.5</text>
<text x="455.90" y="286.00" font-size="8.1" textLength="11.20" lengthAdjust="spacingAndGlyphs" >nM</text>
<line x1="419.90" y1="290.40" x2="430.10" y2="290.40" stroke="#3c8c44" stroke-width="1.05"/>
<text x="433.20" y="295.00" font-size="8.5" >93.75</text>
<text x="456.90" y="295.00" font-size="8.1" textLength="11.20" lengthAdjust="spacingAndGlyphs" >nM</text>
<line x1="419.90" y1="299.70" x2="430.10" y2="299.70" stroke="#f06868" stroke-width="1.05"/>
<text x="433.20" y="304.00" font-size="8.5" >46.875</text>
<text x="461.10" y="304.00" font-size="8.1" textLength="10.90" lengthAdjust="spacingAndGlyphs" >nM</text>
<path d="M434.0 347.8 474.0 347.8" fill="none" stroke="#9a8070" stroke-width="0.9" stroke-opacity="1"/>
<path d="M473.9 347.4 473.9 344.8" fill="none" stroke="#e0c860" stroke-width="1.0" stroke-opacity="1"/>
<path d="M474.2 347.5 474.4 347.0 474.7 346.1 475.1 344.8 475.7 343.2 476.3 341.4 477.0 339.4 477.8 337.3 478.7 335.0 479.6 332.5 480.6 330.0 481.7 327.4 482.8 324.7 484.0 322.0 485.2 319.2 486.5 316.4 487.8 313.6 489.2 310.8 490.7 308.0 492.2 305.2 493.7 302.4 495.3 299.6 496.9 296.9 498.6 294.2 500.3 291.6 502.1 289.0 503.9 286.5 505.7 284.0 507.6 281.6 509.5 279.3 511.5 277.0 513.5 274.8 515.5 272.7 517.6 270.7 519.8 268.7 521.9 266.8 524.1 264.9 526.4 263.2 528.6 261.5 530.9 259.9 533.3 258.3 535.7 256.9 538.1 255.4 540.5 254.1 543.0 252.8 545.5 251.6 548.1 250.4 550.7 249.4 553.3 248.3 553.6 245.3 553.6 245.3 557.7 245.3 561.7 245.4 565.8 245.4 569.8 245.5 573.9 245.5 577.9 245.6 582.0 245.6 586.1 245.6 590.1 245.7 594.2 245.7 598.2 245.7 602.3 245.8 606.3 245.8 610.4 245.8 614.5 245.9 618.5 245.9 622.6 245.9 626.6 245.9 630.7 246.0 634.7 246.0 638.8 246.0 642.8 246.0 646.9 246.1 651.0 246.1 655.0 246.1 659.1 246.1 663.1 246.1 667.2 246.2 671.2 246.2 675.3 246.2" fill="none" stroke="#282828" stroke-width="0.7" stroke-opacity="1.0"/>
<path d="M474.2 347.5 474.4 347.2 474.7 346.7 475.1 345.9 475.7 345.0 476.3 343.9 477.0 342.8 477.8 341.5 478.7 340.1 479.6 338.6 480.6 337.1 481.7 335.5 482.8 333.8 484.0 332.1 485.2 330.3 486.5 328.5 487.8 326.6 489.2 324.8 490.7 322.9 492.2 321.0 493.7 319.0 495.3 317.1 496.9 315.2 498.6 313.2 500.3 311.3 502.1 309.4 503.9 307.5 505.7 305.6 507.6 303.7 509.5 301.8 511.5 300.0 513.5 298.2 515.5 296.4 517.6 294.6 519.8 292.9 521.9 291.2 524.1 289.5 526.4 287.9 528.6 286.3 530.9 284.7 533.3 283.2 535.7 281.7 538.1 280.3 540.5 278.8 543.0 277.5 545.5 276.1 548.1 274.8 550.7 273.5 553.3 272.3 553.6 272.0 553.6 272.0 557.7 272.0 561.7 272.0 565.8 272.0 569.8 272.1 573.9 272.1 577.9 272.1 582.0 272.1 586.1 272.1 590.1 272.1 594.2 272.1 598.2 272.1 602.3 272.2 606.3 272.2 610.4 272.2 614.5 272.2 618.5 272.2 622.6 272.2 626.6 272.2 630.7 272.2 634.7 272.2 638.8 272.2 642.8 272.2 646.9 272.3 651.0 272.3 655.0 272.3 659.1 272.3 663.1 272.3 667.2 272.3 671.2 272.3 675.3 272.3" fill="none" stroke="#282828" stroke-width="0.7" stroke-opacity="1.0"/>
<path d="M474.2 347.5 474.4 347.3 474.7 346.9 475.1 346.3 475.7 345.7 476.3 344.9 477.0 344.1 477.8 343.2 478.7 342.3 479.6 341.2 480.6 340.2 481.7 339.1 482.8 338.0 484.0 336.9 485.2 335.8 486.5 334.6 487.8 333.4 489.2 332.3 490.7 331.1 492.2 329.9 493.7 328.8 495.3 327.6 496.9 326.4 498.6 325.3 500.3 324.1 502.1 323.0 503.9 321.8 505.7 320.7 507.6 319.6 509.5 318.5 511.5 317.3 513.5 316.2 515.5 315.1 517.6 314.0 519.8 312.9 521.9 311.8 524.1 310.7 526.4 309.6 528.6 308.5 530.9 307.4 533.3 306.2 535.7 305.1 538.1 304.0 540.5 302.9 543.0 301.8 545.5 300.6 548.1 299.5 550.7 298.4 553.3 297.2 553.6 300.4 553.6 300.4 557.7 300.4 561.7 300.4 565.8 300.4 569.8 300.4 573.9 300.4 577.9 300.4 582.0 300.4 586.1 300.4 590.1 300.4 594.2 300.4 598.2 300.4 602.3 300.4 606.3 300.4 610.4 300.4 614.5 300.4 618.5 300.4 622.6 300.4 626.6 300.4 630.7 300.4 634.7 300.4 638.8 300.4 642.8 300.4 646.9 300.4 651.0 300.4 655.0 300.4 659.1 300.4 663.1 300.4 667.2 300.4 671.2 300.4 675.3 300.4" fill="none" stroke="#282828" stroke-width="0.7" stroke-opacity="1.0"/>
<path d="M474.2 347.5 474.4 347.4 474.7 347.1 475.1 346.8 475.7 346.4 476.3 345.9 477.0 345.5 477.8 344.9 478.7 344.4 479.6 343.8 480.6 343.2 481.7 342.6 482.8 342.0 484.0 341.3 485.2 340.7 486.5 340.1 487.8 339.4 489.2 338.8 490.7 338.1 492.2 337.4 493.7 336.8 495.3 336.1 496.9 335.4 498.6 334.7 500.3 334.0 502.1 333.4 503.9 332.7 505.7 332.0 507.6 331.2 509.5 330.5 511.5 329.8 513.5 329.1 515.5 328.3 517.6 327.6 519.8 326.8 521.9 326.1 524.1 325.3 526.4 324.5 528.6 323.7 530.9 323.0 533.3 322.2 535.7 321.4 538.1 320.6 540.5 319.7 543.0 318.9 545.5 318.1 548.1 317.3 550.7 316.4 553.3 315.6 553.6 320.8 553.6 320.8 557.7 320.8 561.7 320.8 565.8 320.8 569.8 320.8 573.9 320.8 577.9 320.9 582.0 320.9 586.1 320.9 590.1 320.9 594.2 320.9 598.2 320.9 602.3 320.9 606.3 320.9 610.4 320.9 614.5 320.9 618.5 320.9 622.6 320.9 626.6 320.9 630.7 320.9 634.7 321.0 638.8 321.0 642.8 321.0 646.9 321.0 651.0 321.0 655.0 321.0 659.1 321.0 663.1 321.0 667.2 321.0 671.2 321.0 675.3 321.0" fill="none" stroke="#282828" stroke-width="0.7" stroke-opacity="1.0"/>
<path d="M474.2 347.5 474.4 347.5 474.7 347.4 475.1 347.2 475.7 347.1 476.3 346.9 477.0 346.7 477.8 346.4 478.7 346.2 479.6 345.9 480.6 345.6 481.7 345.3 482.8 345.0 484.0 344.7 485.2 344.4 486.5 344.0 487.8 343.7 489.2 343.3 490.7 343.0 492.2 342.6 493.7 342.2 495.3 341.8 496.9 341.5 498.6 341.1 500.3 340.7 502.1 340.2 503.9 339.8 505.7 339.4 507.6 339.0 509.5 338.6 511.5 338.1 513.5 337.7 515.5 337.3 517.6 336.8 519.8 336.4 521.9 336.0 524.1 335.5 526.4 335.0 528.6 334.6 530.9 334.1 533.3 333.7 535.7 333.2 538.1 332.7 540.5 332.2 543.0 331.8 545.5 331.3 548.1 330.8 550.7 330.3 553.3 329.8 553.6 333.2 553.6 333.2 557.7 333.2 561.7 333.2 565.8 333.2 569.8 333.3 573.9 333.3 577.9 333.3 582.0 333.3 586.1 333.3 590.1 333.3 594.2 333.3 598.2 333.3 602.3 333.4 606.3 333.4 610.4 333.4 614.5 333.4 618.5 333.4 622.6 333.4 626.6 333.4 630.7 333.4 634.7 333.4 638.8 333.4 642.8 333.4 646.9 333.5 651.0 333.5 655.0 333.5 659.1 333.5 663.1 333.5 667.2 333.5 671.2 333.5 675.3 333.5" fill="none" stroke="#282828" stroke-width="0.7" stroke-opacity="1.0"/>
<path d="M474.2 347.5 474.4 346.7 474.7 345.2 475.1 343.3 475.7 341.1 476.3 338.8 477.0 336.3 477.8 333.8 478.7 331.3 479.6 328.7 480.6 326.2 481.7 323.6 482.8 321.1 484.0 318.5 485.2 315.9 486.5 313.4 487.8 310.9 489.2 308.3 490.7 305.8 492.2 303.3 493.7 300.9 495.3 298.5 496.9 296.1 498.6 293.7 500.3 291.4 502.1 289.2 503.9 287.0 505.7 284.8 507.6 282.7 509.5 280.7 511.5 278.7 513.5 276.7 515.5 274.8 517.6 273.0 519.8 271.2 521.9 269.4 524.1 267.7 526.4 266.0 528.6 264.4 530.9 262.8 533.3 261.3 535.7 259.8 538.1 258.3 540.5 256.9 543.0 255.5 545.5 254.1 548.1 252.7 550.7 251.4 553.3 250.1 553.9 250.0 554.6 250.0 558.6 250.1 562.6 250.1 566.7 250.2 570.7 250.3 574.7 250.3 578.7 250.4 582.8 250.5 586.8 250.5 590.8 250.6 594.8 250.6 598.9 250.7 602.9 250.7 606.9 250.8 610.9 250.8 615.0 250.9 619.0 250.9 623.0 251.0 627.0 251.0 631.0 251.0 635.1 251.1 639.1 251.1 643.1 251.2 647.1 251.2 651.2 251.2 655.2 251.3 659.2 251.3 663.2 251.3 667.3 251.3 671.3 251.4 675.3 251.4" fill="none" stroke="#6cdada" stroke-width="0.8" stroke-opacity="0.95"/>
<path d="M474.2 347.5 474.4 346.7 474.7 345.5 475.1 344.4 475.7 343.3 476.3 342.0 477.0 340.7 477.8 339.3 478.7 337.7 479.6 336.1 480.6 334.5 481.7 332.7 482.8 331.0 484.0 329.2 485.2 327.4 486.5 325.5 487.8 323.7 489.2 321.8 490.7 320.0 492.2 318.1 493.7 316.3 495.3 314.5 496.9 312.7 498.6 310.9 500.3 309.1 502.1 307.4 503.9 305.7 505.7 304.1 507.6 302.4 509.5 300.8 511.5 299.2 513.5 297.7 515.5 296.2 517.6 294.7 519.8 293.2 521.9 291.8 524.1 290.3 526.4 289.0 528.6 287.6 530.9 286.3 533.3 284.9 535.7 283.6 538.1 282.4 540.5 281.1 543.0 279.9 545.5 278.6 548.1 277.4 550.7 276.2 553.3 275.0 553.9 274.9 554.6 274.9 558.6 274.9 562.6 274.9 566.7 275.0 570.7 275.0 574.7 275.0 578.7 275.0 582.8 275.0 586.8 275.0 590.8 275.1 594.8 275.1 598.9 275.1 602.9 275.1 606.9 275.1 610.9 275.1 615.0 275.1 619.0 275.2 623.0 275.2 627.0 275.2 631.0 275.2 635.1 275.2 639.1 275.2 643.1 275.2 647.1 275.2 651.2 275.2 655.2 275.3 659.2 275.3 663.2 275.3 667.3 275.3 671.3 275.3 675.3 275.3" fill="none" stroke="#ee48ee" stroke-width="0.8" stroke-opacity="0.95"/>
<path d="M474.2 347.5 474.4 347.3 474.7 346.8 475.1 346.2 475.7 345.5 476.3 344.7 477.0 343.8 477.8 342.9 478.7 341.8 479.6 340.8 480.6 339.7 481.7 338.5 482.8 337.4 484.0 336.2 485.2 335.1 486.5 333.9 487.8 332.7 489.2 331.5 490.7 330.4 492.2 329.2 493.7 328.0 495.3 326.9 496.9 325.7 498.6 324.6 500.3 323.5 502.1 322.3 503.9 321.2 505.7 320.1 507.6 319.0 509.5 317.9 511.5 316.8 513.5 315.7 515.5 314.6 517.6 313.5 519.8 312.4 521.9 311.3 524.1 310.2 526.4 309.1 528.6 308.1 530.9 307.0 533.3 305.8 535.7 304.7 538.1 303.6 540.5 302.5 543.0 301.4 545.5 300.2 548.1 299.1 550.7 298.0 553.3 296.8 553.9 297.0 554.6 297.0 558.6 297.1 562.6 297.1 566.7 297.2 570.7 297.2 574.7 297.3 578.7 297.3 582.8 297.4 586.8 297.4 590.8 297.5 594.8 297.5 598.9 297.5 602.9 297.6 606.9 297.6 610.9 297.6 615.0 297.7 619.0 297.7 623.0 297.8 627.0 297.8 631.0 297.8 635.1 297.8 639.1 297.9 643.1 297.9 647.1 297.9 651.2 298.0 655.2 298.0 659.2 298.0 663.2 298.0 667.3 298.1 671.3 298.1 675.3 298.1" fill="none" stroke="#3440d8" stroke-width="0.8" stroke-opacity="0.95"/>
<path d="M474.2 347.5 474.4 347.4 474.7 347.1 475.1 346.8 475.7 346.4 476.3 345.9 477.0 345.4 477.8 344.8 478.7 344.3 479.6 343.7 480.6 343.0 481.7 342.4 482.8 341.7 484.0 341.0 485.2 340.4 486.5 339.7 487.8 339.0 489.2 338.3 490.7 337.6 492.2 336.9 493.7 336.2 495.3 335.5 496.9 334.8 498.6 334.1 500.3 333.3 502.1 332.6 503.9 331.9 505.7 331.2 507.6 330.4 509.5 329.7 511.5 329.0 513.5 328.2 515.5 327.5 517.6 326.7 519.8 325.9 521.9 325.2 524.1 324.4 526.4 323.6 528.6 322.8 530.9 322.1 533.3 321.3 535.7 320.5 538.1 319.7 540.5 318.8 543.0 318.0 545.5 317.2 548.1 316.4 550.7 315.5 553.3 314.7 553.9 314.6 554.6 314.6 558.6 314.6 562.6 314.6 566.7 314.6 570.7 314.7 574.7 314.7 578.7 314.7 582.8 314.7 586.8 314.7 590.8 314.7 594.8 314.7 598.9 314.7 602.9 314.8 606.9 314.8 610.9 314.8 615.0 314.8 619.0 314.8 623.0 314.8 627.0 314.8 631.0 314.8 635.1 314.8 639.1 314.8 643.1 314.8 647.1 314.9 651.2 314.9 655.2 314.9 659.2 314.9 663.2 314.9 667.3 314.9 671.3 314.9 675.3 314.9" fill="none" stroke="#3c8a46" stroke-width="0.8" stroke-opacity="0.95"/>
<path d="M474.2 347.5 474.4 347.4 474.7 347.3 475.1 347.2 475.7 347.0 476.3 346.8 477.0 346.5 477.8 346.3 478.7 346.0 479.6 345.7 480.6 345.4 481.7 345.1 482.8 344.8 484.0 344.4 485.2 344.1 486.5 343.7 487.8 343.4 489.2 343.0 490.7 342.6 492.2 342.2 493.7 341.8 495.3 341.4 496.9 341.0 498.6 340.6 500.3 340.2 502.1 339.8 503.9 339.3 505.7 338.9 507.6 338.4 509.5 338.0 511.5 337.5 513.5 337.0 515.5 336.5 517.6 336.0 519.8 335.5 521.9 335.0 524.1 334.5 526.4 334.0 528.6 333.5 530.9 332.9 533.3 332.4 535.7 331.8 538.1 331.2 540.5 330.7 543.0 330.1 545.5 329.5 548.1 328.9 550.7 328.3 553.3 327.7 553.9 327.9 554.6 327.9 558.6 327.9 562.6 327.9 566.7 328.0 570.7 328.0 574.7 328.0 578.7 328.0 582.8 328.0 586.8 328.0 590.8 328.1 594.8 328.1 598.9 328.1 602.9 328.1 606.9 328.1 610.9 328.1 615.0 328.1 619.0 328.2 623.0 328.2 627.0 328.2 631.0 328.2 635.1 328.2 639.1 328.2 643.1 328.2 647.1 328.2 651.2 328.2 655.2 328.3 659.2 328.3 663.2 328.3 667.3 328.3 671.3 328.3 675.3 328.3" fill="none" stroke="#e45a5a" stroke-width="0.8" stroke-opacity="0.95"/>
<line x1="474.40" y1="347.20" x2="474.40" y2="352.80" stroke="#333" stroke-width="0.9"/>
<line x1="478.30" y1="326.50" x2="478.30" y2="331.50" stroke="#7ab" stroke-width="0.7"/>
<text x="448.10" y="402.10" font-size="9.4" font-weight="bold" stroke="#111" stroke-width="0.2">k</text>
<text x="452.00" y="402.10" font-size="6.2" textLength="7.90" lengthAdjust="spacingAndGlyphs" stroke="#222" stroke-width="0.3">on</text>
<text x="462.70" y="402.10" font-size="9.6" font-weight="bold" textLength="71.50" lengthAdjust="spacingAndGlyphs" stroke="#111" stroke-width="0.2">(1/Ms)=2.308×10</text>
<text x="535.00" y="399.10" font-size="6.4" font-weight="bold" textLength="3.00" lengthAdjust="spacingAndGlyphs" stroke="#111" stroke-width="0.2">4</text>
<text x="448.10" y="419.10" font-size="9.4" font-weight="bold" stroke="#111" stroke-width="0.2">k</text>
<text x="452.00" y="419.10" font-size="6.2" textLength="7.90" lengthAdjust="spacingAndGlyphs" stroke="#222" stroke-width="0.3">off</text>
<text x="463.00" y="419.10" font-size="9.6" font-weight="bold" textLength="65.60" lengthAdjust="spacingAndGlyphs" stroke="#111" stroke-width="0.2">(1/s)=1.840×10</text>
<text x="529.40" y="416.10" font-size="6.4" font-weight="bold" textLength="4.20" lengthAdjust="spacingAndGlyphs" stroke="#111" stroke-width="0.2">-5</text>
<text x="555.90" y="403.80" font-size="9.4" font-weight="bold" stroke="#111" stroke-width="0.2">K</text>
<text x="562.10" y="403.80" font-size="5.8" stroke="#222" stroke-width="0.3">D</text>
<text x="565.60" y="403.80" font-size="9.6" font-weight="bold" textLength="58.50" lengthAdjust="spacingAndGlyphs" stroke="#111" stroke-width="0.2">(M)=7.973×10</text>
<text x="624.90" y="401.00" font-size="5.8" font-weight="bold" textLength="9.50" lengthAdjust="spacingAndGlyphs" stroke="#111" stroke-width="0.2">-10</text>
<text x="556.50" y="417.60" font-size="9.4" font-weight="bold" stroke="#111" stroke-width="0.2">R</text>
<text x="561.80" y="417.60" font-size="5.8" textLength="12.20" lengthAdjust="spacingAndGlyphs" stroke="#222" stroke-width="0.3">max</text>
<text x="575.70" y="417.60" font-size="9.8" font-weight="bold" textLength="20.60" lengthAdjust="spacingAndGlyphs" stroke="#111" stroke-width="0.2">(RU)</text>
<text x="597.90" y="417.60" font-size="9.4" font-weight="bold" textLength="4.90" lengthAdjust="spacingAndGlyphs" stroke="#111" stroke-width="0.2">=</text>
<text x="603.60" y="417.60" font-size="9.6" font-weight="bold" textLength="21.80" lengthAdjust="spacingAndGlyphs" stroke="#111" stroke-width="0.2">79.81</text>
</svg></body></html>
